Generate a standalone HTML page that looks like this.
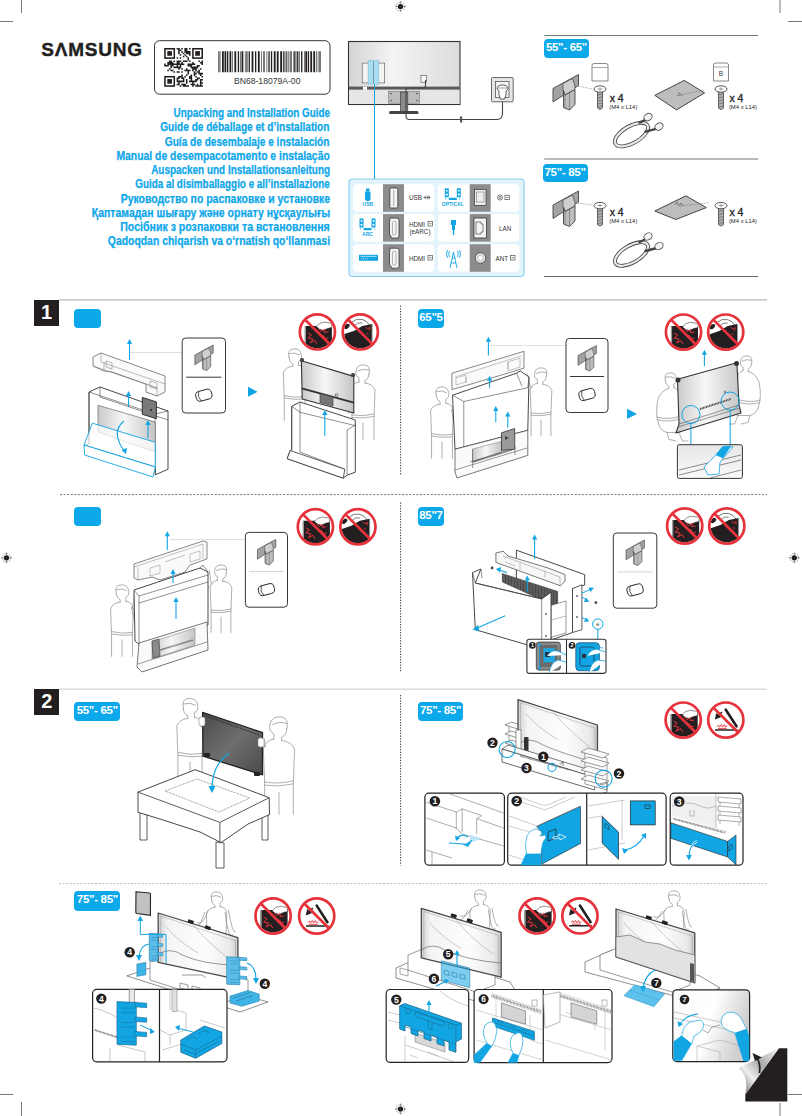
<!DOCTYPE html>
<html><head><meta charset="utf-8">
<style>
*{margin:0;padding:0;box-sizing:border-box}
html,body{width:802px;height:1116px;background:#fff;overflow:hidden}
body{position:relative;font-family:"Liberation Sans",sans-serif;color:#231f20}
.a{position:absolute;white-space:nowrap}
svg{position:absolute;left:0;top:0}
.t{font-weight:bold;color:#0ea7ea;font-size:12px;line-height:14.3px;right:472.2px;transform-origin:100% 50%;-webkit-text-stroke:0.25px #0ea7ea}
.pill{position:absolute;background:#0ba8ea;border-radius:4px;color:#fff;font-weight:bold;text-align:center;overflow:hidden;letter-spacing:-0.3px}
.num{position:absolute;background:#231f20;color:#fff;font-weight:bold;font-size:20px;text-align:center;line-height:25px}
</style></head><body>
<svg width="802" height="1116" viewBox="0 0 802 1116">
<g stroke="#666" stroke-width="0.9" fill="none"><path d="M21.5 0V13M0 21.5H13M780 0V13M788 21.5H802M0 1094.5H13M21.5 1102V1116M788 1094.5H802M780 1103V1116"/></g>
<g><circle cx="400.5" cy="6.5" r="4.3" fill="none" stroke="#555" stroke-width="0.6" stroke-dasharray="1.5 1"/><circle cx="400.5" cy="6.5" r="2.6" fill="#111"/><path d="M395.0 6.5H406.0M400.5 1.0V12.0" stroke="#444" stroke-width="0.5"/></g>
<g><circle cx="6.5" cy="557.8" r="4.3" fill="none" stroke="#555" stroke-width="0.6" stroke-dasharray="1.5 1"/><circle cx="6.5" cy="557.8" r="2.6" fill="#111"/><path d="M1.0 557.8H12.0M6.5 552.3V563.3" stroke="#444" stroke-width="0.5"/></g>
<g><circle cx="794.3" cy="557.8" r="4.3" fill="none" stroke="#555" stroke-width="0.6" stroke-dasharray="1.5 1"/><circle cx="794.3" cy="557.8" r="2.6" fill="#111"/><path d="M788.8 557.8H799.8M794.3 552.3V563.3" stroke="#444" stroke-width="0.5"/></g>
<g><circle cx="400.5" cy="1109" r="4.3" fill="none" stroke="#555" stroke-width="0.6" stroke-dasharray="1.5 1"/><circle cx="400.5" cy="1109" r="2.6" fill="#111"/><path d="M395.0 1109H406.0M400.5 1103.5V1114.5" stroke="#444" stroke-width="0.5"/></g>
<rect x="154.5" y="40.7" width="175.5" height="53.5" rx="5" fill="#fff" stroke="#231f20" stroke-width="0.9"/>
<path d="M176.62 48.00h1.55v1.55h-1.55zM178.17 48.00h1.55v1.55h-1.55zM181.27 48.00h1.55v1.55h-1.55zM184.38 48.00h1.55v1.55h-1.55zM185.93 48.00h1.55v1.55h-1.55zM189.03 48.00h1.55v1.55h-1.55zM178.17 49.55h1.55v1.55h-1.55zM179.72 49.55h1.55v1.55h-1.55zM184.38 49.55h1.55v1.55h-1.55zM185.93 49.55h1.55v1.55h-1.55zM178.17 51.10h1.55v1.55h-1.55zM181.27 51.10h1.55v1.55h-1.55zM184.38 51.10h1.55v1.55h-1.55zM185.93 51.10h1.55v1.55h-1.55zM187.48 51.10h1.55v1.55h-1.55zM189.03 51.10h1.55v1.55h-1.55zM178.17 52.66h1.55v1.55h-1.55zM182.82 52.66h1.55v1.55h-1.55zM185.93 52.66h1.55v1.55h-1.55zM187.48 52.66h1.55v1.55h-1.55zM189.03 52.66h1.55v1.55h-1.55zM179.72 54.21h1.55v1.55h-1.55zM184.38 54.21h1.55v1.55h-1.55zM189.03 54.21h1.55v1.55h-1.55zM182.82 55.76h1.55v1.55h-1.55zM185.93 55.76h1.55v1.55h-1.55zM176.62 57.31h1.55v1.55h-1.55zM179.72 57.31h1.55v1.55h-1.55zM187.48 57.31h1.55v1.55h-1.55zM187.48 58.86h1.55v1.55h-1.55zM168.86 60.42h1.55v1.55h-1.55zM170.41 60.42h1.55v1.55h-1.55zM173.51 60.42h1.55v1.55h-1.55zM176.62 60.42h1.55v1.55h-1.55zM178.17 60.42h1.55v1.55h-1.55zM179.72 60.42h1.55v1.55h-1.55zM182.82 60.42h1.55v1.55h-1.55zM184.38 60.42h1.55v1.55h-1.55zM185.93 60.42h1.55v1.55h-1.55zM189.03 60.42h1.55v1.55h-1.55zM198.34 60.42h1.55v1.55h-1.55zM201.45 60.42h1.55v1.55h-1.55zM167.30 61.97h1.55v1.55h-1.55zM168.86 61.97h1.55v1.55h-1.55zM170.41 61.97h1.55v1.55h-1.55zM171.96 61.97h1.55v1.55h-1.55zM176.62 61.97h1.55v1.55h-1.55zM178.17 61.97h1.55v1.55h-1.55zM181.27 61.97h1.55v1.55h-1.55zM192.14 61.97h1.55v1.55h-1.55zM199.90 61.97h1.55v1.55h-1.55zM201.45 61.97h1.55v1.55h-1.55zM164.20 63.52h1.55v1.55h-1.55zM167.30 63.52h1.55v1.55h-1.55zM168.86 63.52h1.55v1.55h-1.55zM170.41 63.52h1.55v1.55h-1.55zM171.96 63.52h1.55v1.55h-1.55zM173.51 63.52h1.55v1.55h-1.55zM175.06 63.52h1.55v1.55h-1.55zM176.62 63.52h1.55v1.55h-1.55zM178.17 63.52h1.55v1.55h-1.55zM179.72 63.52h1.55v1.55h-1.55zM181.27 63.52h1.55v1.55h-1.55zM182.82 63.52h1.55v1.55h-1.55zM187.48 63.52h1.55v1.55h-1.55zM189.03 63.52h1.55v1.55h-1.55zM190.58 63.52h1.55v1.55h-1.55zM192.14 63.52h1.55v1.55h-1.55zM193.69 63.52h1.55v1.55h-1.55zM201.45 63.52h1.55v1.55h-1.55zM164.20 65.07h1.55v1.55h-1.55zM165.75 65.07h1.55v1.55h-1.55zM167.30 65.07h1.55v1.55h-1.55zM170.41 65.07h1.55v1.55h-1.55zM171.96 65.07h1.55v1.55h-1.55zM176.62 65.07h1.55v1.55h-1.55zM179.72 65.07h1.55v1.55h-1.55zM187.48 65.07h1.55v1.55h-1.55zM189.03 65.07h1.55v1.55h-1.55zM190.58 65.07h1.55v1.55h-1.55zM196.79 65.07h1.55v1.55h-1.55zM198.34 65.07h1.55v1.55h-1.55zM170.41 66.62h1.55v1.55h-1.55zM173.51 66.62h1.55v1.55h-1.55zM175.06 66.62h1.55v1.55h-1.55zM176.62 66.62h1.55v1.55h-1.55zM178.17 66.62h1.55v1.55h-1.55zM179.72 66.62h1.55v1.55h-1.55zM190.58 66.62h1.55v1.55h-1.55zM192.14 66.62h1.55v1.55h-1.55zM193.69 66.62h1.55v1.55h-1.55zM195.24 66.62h1.55v1.55h-1.55zM196.79 66.62h1.55v1.55h-1.55zM168.86 68.18h1.55v1.55h-1.55zM178.17 68.18h1.55v1.55h-1.55zM181.27 68.18h1.55v1.55h-1.55zM185.93 68.18h1.55v1.55h-1.55zM192.14 68.18h1.55v1.55h-1.55zM193.69 68.18h1.55v1.55h-1.55zM195.24 68.18h1.55v1.55h-1.55zM199.90 68.18h1.55v1.55h-1.55zM167.30 69.73h1.55v1.55h-1.55zM170.41 69.73h1.55v1.55h-1.55zM171.96 69.73h1.55v1.55h-1.55zM184.38 69.73h1.55v1.55h-1.55zM185.93 69.73h1.55v1.55h-1.55zM187.48 69.73h1.55v1.55h-1.55zM189.03 69.73h1.55v1.55h-1.55zM192.14 69.73h1.55v1.55h-1.55zM195.24 69.73h1.55v1.55h-1.55zM198.34 69.73h1.55v1.55h-1.55zM173.51 71.28h1.55v1.55h-1.55zM176.62 71.28h1.55v1.55h-1.55zM178.17 71.28h1.55v1.55h-1.55zM181.27 71.28h1.55v1.55h-1.55zM187.48 71.28h1.55v1.55h-1.55zM193.69 71.28h1.55v1.55h-1.55zM196.79 71.28h1.55v1.55h-1.55zM198.34 71.28h1.55v1.55h-1.55zM187.48 72.83h1.55v1.55h-1.55zM193.69 72.83h1.55v1.55h-1.55zM195.24 72.83h1.55v1.55h-1.55zM198.34 72.83h1.55v1.55h-1.55zM199.90 72.83h1.55v1.55h-1.55zM201.45 72.83h1.55v1.55h-1.55zM181.27 74.38h1.55v1.55h-1.55zM185.93 74.38h1.55v1.55h-1.55zM190.58 74.38h1.55v1.55h-1.55zM193.69 74.38h1.55v1.55h-1.55zM199.90 74.38h1.55v1.55h-1.55zM178.17 75.94h1.55v1.55h-1.55zM179.72 75.94h1.55v1.55h-1.55zM181.27 75.94h1.55v1.55h-1.55zM184.38 75.94h1.55v1.55h-1.55zM189.03 75.94h1.55v1.55h-1.55zM190.58 75.94h1.55v1.55h-1.55zM195.24 75.94h1.55v1.55h-1.55zM201.45 75.94h1.55v1.55h-1.55zM176.62 77.49h1.55v1.55h-1.55zM178.17 77.49h1.55v1.55h-1.55zM181.27 77.49h1.55v1.55h-1.55zM182.82 77.49h1.55v1.55h-1.55zM189.03 77.49h1.55v1.55h-1.55zM190.58 77.49h1.55v1.55h-1.55zM196.79 77.49h1.55v1.55h-1.55zM198.34 77.49h1.55v1.55h-1.55zM176.62 79.04h1.55v1.55h-1.55zM182.82 79.04h1.55v1.55h-1.55zM185.93 79.04h1.55v1.55h-1.55zM190.58 79.04h1.55v1.55h-1.55zM195.24 79.04h1.55v1.55h-1.55zM196.79 79.04h1.55v1.55h-1.55zM199.90 79.04h1.55v1.55h-1.55zM201.45 79.04h1.55v1.55h-1.55zM176.62 80.59h1.55v1.55h-1.55zM178.17 80.59h1.55v1.55h-1.55zM179.72 80.59h1.55v1.55h-1.55zM181.27 80.59h1.55v1.55h-1.55zM182.82 80.59h1.55v1.55h-1.55zM185.93 80.59h1.55v1.55h-1.55zM189.03 80.59h1.55v1.55h-1.55zM190.58 80.59h1.55v1.55h-1.55zM192.14 80.59h1.55v1.55h-1.55zM193.69 80.59h1.55v1.55h-1.55zM195.24 80.59h1.55v1.55h-1.55zM199.90 80.59h1.55v1.55h-1.55zM178.17 82.14h1.55v1.55h-1.55zM185.93 82.14h1.55v1.55h-1.55zM192.14 82.14h1.55v1.55h-1.55zM199.90 82.14h1.55v1.55h-1.55zM201.45 82.14h1.55v1.55h-1.55zM176.62 83.70h1.55v1.55h-1.55zM178.17 83.70h1.55v1.55h-1.55zM181.27 83.70h1.55v1.55h-1.55zM182.82 83.70h1.55v1.55h-1.55zM184.38 83.70h1.55v1.55h-1.55zM190.58 83.70h1.55v1.55h-1.55zM192.14 83.70h1.55v1.55h-1.55zM193.69 83.70h1.55v1.55h-1.55zM196.79 83.70h1.55v1.55h-1.55zM199.90 83.70h1.55v1.55h-1.55zM179.72 85.25h1.55v1.55h-1.55zM182.82 85.25h1.55v1.55h-1.55zM184.38 85.25h1.55v1.55h-1.55zM185.93 85.25h1.55v1.55h-1.55zM187.48 85.25h1.55v1.55h-1.55zM192.14 85.25h1.55v1.55h-1.55zM195.24 85.25h1.55v1.55h-1.55zM196.79 85.25h1.55v1.55h-1.55zM198.34 85.25h1.55v1.55h-1.55zM199.90 85.25h1.55v1.55h-1.55zM201.45 85.25h1.55v1.55h-1.55z" fill="#231f20"/>
<rect x="164.98" y="48.78" width="9.31" height="9.31" fill="none" stroke="#231f20" stroke-width="1.55"/><rect x="167.30" y="51.10" width="4.66" height="4.66" fill="#231f20"/>
<rect x="192.91" y="48.78" width="9.31" height="9.31" fill="none" stroke="#231f20" stroke-width="1.55"/><rect x="195.24" y="51.10" width="4.66" height="4.66" fill="#231f20"/>
<rect x="164.98" y="76.71" width="9.31" height="9.31" fill="none" stroke="#231f20" stroke-width="1.55"/><rect x="167.30" y="79.04" width="4.66" height="4.66" fill="#231f20"/>
<path d="M218.00 51.2h0.6v21h-0.6zM219.50 51.2h0.9v21h-0.9zM222.00 51.2h1.8v21h-1.8zM224.50 51.2h1.8v21h-1.8zM227.00 51.2h1.3v21h-1.3zM229.50 51.2h1.8v21h-1.8zM232.20 51.2h0.6v21h-0.6zM234.40 51.2h1.8v21h-1.8zM237.80 51.2h1.3v21h-1.3zM240.00 51.2h0.6v21h-0.6zM241.50 51.2h1.8v21h-1.8zM244.90 51.2h0.6v21h-0.6zM246.20 51.2h0.6v21h-0.6zM247.50 51.2h0.9v21h-0.9zM249.10 51.2h0.9v21h-0.9zM251.60 51.2h1.8v21h-1.8zM255.00 51.2h1.3v21h-1.3zM257.90 51.2h1.8v21h-1.8zM261.30 51.2h0.6v21h-0.6zM263.10 51.2h0.6v21h-0.6zM264.40 51.2h0.6v21h-0.6zM266.60 51.2h0.6v21h-0.6zM268.40 51.2h1.3v21h-1.3zM270.90 51.2h1.3v21h-1.3zM273.80 51.2h1.8v21h-1.8zM276.80 51.2h1.8v21h-1.8zM280.20 51.2h1.8v21h-1.8zM282.90 51.2h0.9v21h-0.9zM284.50 51.2h0.9v21h-0.9zM286.30 51.2h0.9v21h-0.9zM287.90 51.2h0.6v21h-0.6zM289.70 51.2h0.9v21h-0.9zM291.30 51.2h0.6v21h-0.6zM293.50 51.2h1.3v21h-1.3zM295.50 51.2h0.9v21h-0.9zM297.10 51.2h1.3v21h-1.3zM299.30 51.2h0.6v21h-0.6zM301.10 51.2h1.3v21h-1.3zM304.00 51.2h0.6v21h-0.6zM305.30 51.2h1.8v21h-1.8zM307.80 51.2h1.3v21h-1.3zM310.30 51.2h1.8v21h-1.8zM313.30 51.2h1.8v21h-1.8zM316.00 51.2h0.6v21h-0.6zM317.80 51.2h0.6v21h-0.6zM319.10 51.2h0.6v21h-0.6zM320.40 51.2h0.6v21h-0.6z" fill="#231f20"/>
<defs><linearGradient id="mg" x1="0" y1="0" x2="1" y2="0"><stop offset="0" stop-color="#d4d4d4"/><stop offset="0.4" stop-color="#f4f4f4"/><stop offset="1" stop-color="#dcdcdc"/></linearGradient><linearGradient id="tvg" x1="0" y1="0" x2="1" y2="0"><stop offset="0" stop-color="#c9c9c9"/><stop offset="0.45" stop-color="#f7f7f7"/><stop offset="1" stop-color="#c4c4c4"/></linearGradient><linearGradient id="dtv" x1="0" y1="0" x2="1" y2="1"><stop offset="0" stop-color="#4a4a4a"/><stop offset="0.5" stop-color="#6e6e6e"/><stop offset="1" stop-color="#4a4a4a"/></linearGradient></defs>
<rect x="348.5" y="41.5" width="111.5" height="63" fill="url(#mg)" stroke="#333" stroke-width="1.1"/>
<rect x="349" y="86.6" width="110.5" height="3" fill="#5a5a5a"/>
<path d="M349 90H459.5V104H349Z" fill="#e6e6e6" stroke="none"/>
<rect x="362.2" y="63.1" width="22.5" height="19.8" fill="#f3f3f3" stroke="#555" stroke-width="0.6"/>
<rect x="368.2" y="60.4" width="10.5" height="24" fill="#a8dcf2" stroke="#5aa9cf" stroke-width="0.6" stroke-dasharray="1.2 0.8"/>
<path d="M373.5 61V84" stroke="#555" stroke-width="0.5"/>
<rect x="363" y="86.8" width="4" height="3" fill="#fff"/>
<rect x="388.5" y="91.2" width="31.2" height="12" fill="#bdbdbd" stroke="#666" stroke-width="0.5"/>
<g fill="#333"><circle cx="391" cy="93.5" r="0.7"/><circle cx="417" cy="93.5" r="0.7"/><circle cx="391" cy="100.5" r="0.7"/><circle cx="417" cy="100.5" r="0.7"/></g>
<rect x="400.4" y="92" width="7.4" height="19.5" fill="#8a8a8a" stroke="#333" stroke-width="0.6"/>
<rect x="389" y="111" width="29.5" height="3" rx="1.5" fill="#444"/>
<rect x="421" y="75.4" width="5.5" height="6.8" fill="#fff" stroke="#444" stroke-width="0.6"/>
<path d="M425.5 80V86Q425.5 88 423 88H408Q406 88 406 90V116Q406 119.5 409.5 119.5H497Q502.5 119.5 502.5 113V99" fill="none" stroke="#444" stroke-width="1.1"/>
<rect x="460" y="116.5" width="2.2" height="6" fill="#555"/>
<rect x="491.5" y="77.5" width="21.7" height="24.3" rx="1" fill="#e6e6e6" stroke="#444" stroke-width="0.8"/>
<rect x="495.5" y="81.5" width="13.5" height="16" fill="#f4f4f4" stroke="#444" stroke-width="0.7"/>
<path d="M497 89 Q497 85 502.5 85 Q508 85 508 89 L506 91 V95 L504.5 99 H500.5 L499 95 V91Z" fill="#fff" stroke="#333" stroke-width="0.8"/><path d="M498 88 H507" stroke="#555" stroke-width="0.6"/>
<path d="M374.5 84V179" stroke="#12a5e3" stroke-width="1"/>
<rect x="349" y="179" width="175" height="97.5" rx="3.5" fill="#e2f3fb" stroke="#86cdee" stroke-width="1.1"/>
<rect x="353" y="184.2" width="81.5" height="27.6" rx="4" fill="#fff"/>
<rect x="383" y="184.2" width="21" height="27.6" fill="#8c8c8c"/>
<rect x="353" y="214.1" width="81.5" height="27.6" rx="4" fill="#fff"/>
<rect x="383" y="214.1" width="21" height="27.6" fill="#8c8c8c"/>
<rect x="353" y="244.2" width="81.5" height="27.6" rx="4" fill="#fff"/>
<rect x="383" y="244.2" width="21" height="27.6" fill="#8c8c8c"/>
<rect x="437.8" y="184.2" width="81.5" height="27.6" rx="4" fill="#fff"/>
<rect x="469.7" y="184.2" width="21" height="27.6" fill="#8c8c8c"/>
<rect x="437.8" y="214.1" width="81.5" height="27.6" rx="4" fill="#fff"/>
<rect x="469.7" y="214.1" width="21" height="27.6" fill="#8c8c8c"/>
<rect x="437.8" y="244.2" width="81.5" height="27.6" rx="4" fill="#fff"/>
<rect x="469.7" y="244.2" width="21" height="27.6" fill="#8c8c8c"/>
<rect x="389.8" y="188" width="8" height="20" rx="1.5" fill="#f4f4f4" stroke="#333" stroke-width="0.8"/><path d="M393.8 190V206" stroke="#777" stroke-width="0.6"/>
<path d="M390 218.1 H397 Q399 218.1 399 220.1 V236.1 Q399 238.1 397 238.1 H392 L389.5 234.1 V222.1Z" fill="#f4f4f4" stroke="#333" stroke-width="0.8"/><rect x="392.5" y="221.1" width="3.5" height="14" rx="1.5" fill="none" stroke="#777" stroke-width="0.5"/>
<path d="M390 248.2 H397 Q399 248.2 399 250.2 V266.2 Q399 268.2 397 268.2 H392 L389.5 264.2 V252.2Z" fill="#f4f4f4" stroke="#333" stroke-width="0.8"/><rect x="392.5" y="251.2" width="3.5" height="14" rx="1.5" fill="none" stroke="#777" stroke-width="0.5"/>
<rect x="474.5" y="189.5" width="11.5" height="16" fill="#eee" stroke="#333" stroke-width="0.7"/><rect x="476.5" y="192" width="7.5" height="10" fill="none" stroke="#777" stroke-width="0.6"/>
<rect x="474" y="218" width="12.5" height="20" fill="#f4f4f4" stroke="#333" stroke-width="0.8"/><path d="M476 222H481V224H483V232H481V234H476Z" fill="none" stroke="#333" stroke-width="0.6"/>
<circle cx="480.5" cy="258" r="5.2" fill="#eee" stroke="#444" stroke-width="0.8"/><circle cx="480.5" cy="258" r="2.8" fill="#fff" stroke="#888" stroke-width="0.6"/>
<g fill="#12a5e3"><rect x="366" y="188.5" width="3.5" height="3" /><path d="M365 191.5H370.5V199Q370.5 201 367.7 201Q365 201 365 199Z"/></g>
<text x="367.8" y="206.3" font-size="5" font-weight="bold" fill="#12a5e3" text-anchor="middle" font-family="Liberation Sans">USB</text>
<g fill="#12a5e3"><rect x="359.5" y="218.5" width="4" height="9"/><rect x="371.5" y="218.5" width="4" height="9"/><rect x="363.5" y="228.0" width="8" height="2.2"/><path d="M360.5 228.0V230.0M374.5 228.0V230.0" stroke="#12a5e3" stroke-width="0.5"/></g><g fill="#fff"><circle cx="361.5" cy="221.0" r="0.9"/><circle cx="361.5" cy="224.8" r="1.1"/><circle cx="373.5" cy="221.0" r="0.9"/><circle cx="373.5" cy="224.8" r="1.1"/></g>
<text x="367.5" y="236.3" font-size="5" font-weight="bold" fill="#12a5e3" text-anchor="middle" font-family="Liberation Sans">ARC</text>
<g fill="#12a5e3"><rect x="444.8" y="188.3" width="4" height="9"/><rect x="456.8" y="188.3" width="4" height="9"/><rect x="448.8" y="197.8" width="8" height="2.2"/><path d="M445.8 197.8V199.8M459.8 197.8V199.8" stroke="#12a5e3" stroke-width="0.5"/></g><g fill="#fff"><circle cx="446.8" cy="190.8" r="0.9"/><circle cx="446.8" cy="194.60000000000002" r="1.1"/><circle cx="458.8" cy="190.8" r="0.9"/><circle cx="458.8" cy="194.60000000000002" r="1.1"/></g>
<text x="452.8" y="206.10000000000002" font-size="5" font-weight="bold" fill="#12a5e3" text-anchor="middle" font-family="Liberation Sans">OPTICAL</text>
<rect x="359" y="254.8" width="19" height="6" fill="#12a5e3"/><path d="M360.5 256.4H376.5" stroke="#fff" stroke-width="0.6"/><path d="M361 258.8h1.2m0.8 0h1.2m0.8 0h1.2m0.8 0h1.2" stroke="#fff" stroke-width="0.6"/>
<g fill="#12a5e3"><path d="M451 220H456V225H455V230H452V225H451Z"/><rect x="452.8" y="230" width="1.4" height="5"/></g>
<g stroke="#12a5e3" fill="none" stroke-width="0.9"><path d="M450 268L453.5 252L457 268M451 263H456M452 258H455"/><path d="M449.5 251Q448 254 449.5 257M457.5 251Q459 254 457.5 257M447.5 250Q445.5 254 447.5 258M459.5 250Q461.5 254 459.5 258"/></g>
<g font-family="Liberation Sans" font-size="6.3" fill="#333"><text x="409" y="199.5">USB</text><text x="409" y="226.5">HDMI</text><text x="409.5" y="233.5">(eARC)</text><text x="409" y="260.5">HDMI</text><text x="499" y="230.5">LAN</text><text x="495.5" y="260.5">ANT</text></g>
<g fill="none" stroke="#333" stroke-width="0.6"><path d="M424 197.5H430M426 195.5L424 197.5L426 199.5"/><circle cx="428.5" cy="197.5" r="1.3"/><rect x="428" y="221.5" width="4.5" height="4.5"/><path d="M429 223.7H431.5"/><rect x="428" y="255.5" width="4.5" height="4.5"/><path d="M429 257.7H431.5"/><circle cx="500" cy="197.5" r="2.6"/><circle cx="500" cy="197.5" r="1.2"/><rect x="505" y="195.2" width="4.5" height="4.5"/><path d="M506 197.4H508.5"/><rect x="510.5" y="255.5" width="4.5" height="4.5"/><path d="M511.5 257.7H514"/></g>
<path d="M544.2 35.5H758.2" stroke="#666" stroke-width="0.9"/>
<path d="M544.2 159H758.2" stroke="#777" stroke-width="1.1"/>
<path d="M544.2 276.5H758.2" stroke="#555" stroke-width="0.9"/>
<g transform="translate(553 74.5) scale(1.0)"><path d="M0 14 L25.5 0 L25.5 11 L0 27.5Z" fill="#a3a3a3" stroke="#444" stroke-width="0.9" stroke-linejoin="round"/><path d="M10 9 L19.5 4 L22 11.5 L22 15 L12 20.5 L10 16Z" fill="#cfcfcf" stroke="#444" stroke-width="0.7" stroke-linejoin="round"/><path d="M10.5 16 L12 20.5 L22 15 V30 L16.5 35.5 L10.5 33Z" fill="#bdbdbd" stroke="#444" stroke-width="0.9" stroke-linejoin="round"/><path d="M12 20.5 V34.5 M16.5 18 V35.5" stroke="#555" stroke-width="0.5"/></g>
<path d="M578 86 L592 89" stroke="#555" stroke-width="0.5" stroke-dasharray="1 0.7"/>
<path d="M592 65.5 Q592 63.5 594 63.5 H606 Q608 63.5 608 65.5 V81.0 H592 Z" fill="#fff" stroke="#555" stroke-width="0.7"/><path d="M592 67.5 H608" stroke="#555" stroke-width="0.5"/>
<path d="M597.5 91 V108 Q600 111 602.5 108 V91" fill="#b0b0b0" stroke="#444" stroke-width="0.8"/><path d="M597.5 95l5 -1.2 M597.5 98l5 -1.2 M597.5 101l5 -1.2 M597.5 104l5 -1.2 M597.5 107l5 -1.2" stroke="#555" stroke-width="0.6"/><ellipse cx="600" cy="89" rx="6" ry="3.2" fill="#fff" stroke="#444" stroke-width="0.9"/><path d="M597.5 89h5 M600 87.3v3.4" stroke="#666" stroke-width="0.6"/>
<text x="609.7" y="102.4" font-size="10.5" fill="#231f20" stroke="#231f20" stroke-width="0.35" font-family="Liberation Sans">x 4</text><text x="609.2" y="109.0" font-size="5.9" fill="#231f20" font-family="Liberation Sans">(M4 x L14)</text>
<polygon points="654.8,95.3 684.3,80.4 704.6,92.9 676.5,109.9" fill="#bdbdbd" stroke="#444" stroke-width="1" stroke-linejoin="round"/>
<path d="M681 95 L704 90" stroke="#555" stroke-width="0.5" stroke-dasharray="1 0.7"/><path d="M678 93 q3 0 4 3 M677 96 l3 -1" stroke="#444" stroke-width="0.6" fill="none"/>
<path d="M713.5 65 Q713.5 63 715.5 63 H726.5 Q728.5 63 728.5 65 V81 H713.5 Z" fill="#fff" stroke="#555" stroke-width="0.7"/><path d="M713.5 67 H728.5" stroke="#555" stroke-width="0.5"/><text x="721.0" y="76" font-size="6.5" fill="#333" text-anchor="middle" font-family="Liberation Sans">B</text>
<path d="M718.5 91 V108 Q721 111 723.5 108 V91" fill="#b0b0b0" stroke="#444" stroke-width="0.8"/><path d="M718.5 95l5 -1.2 M718.5 98l5 -1.2 M718.5 101l5 -1.2 M718.5 104l5 -1.2 M718.5 107l5 -1.2" stroke="#555" stroke-width="0.6"/><ellipse cx="721" cy="89" rx="6" ry="3.2" fill="#fff" stroke="#444" stroke-width="0.9"/><path d="M718.5 89h5 M721 87.3v3.4" stroke="#666" stroke-width="0.6"/>
<text x="729.4" y="102.4" font-size="10.5" fill="#231f20" stroke="#231f20" stroke-width="0.35" font-family="Liberation Sans">x 4</text><text x="728.9" y="109.0" font-size="5.9" fill="#231f20" font-family="Liberation Sans">(M4 x L14)</text>
<g fill="none" stroke-linecap="round"><ellipse cx="631.5" cy="134.6" rx="18.5" ry="8.5" transform="rotate(-30 631.5 134.6)" stroke="#444" stroke-width="3.8"/><ellipse cx="631.5" cy="134.6" rx="18.5" ry="8.5" transform="rotate(-30 631.5 134.6)" stroke="#e8e8e8" stroke-width="2.2"/><path d="M639.5 122.6 L646 119.6" stroke="#444" stroke-width="2.4"/><path d="M645.5 131.6 L657 128.6" stroke="#444" stroke-width="2.4"/></g><ellipse cx="648" cy="117.1" rx="4.3" ry="3.4" fill="#f4f4f4" stroke="#444" stroke-width="0.9" transform="rotate(-30 648 117.1)"/><ellipse cx="659" cy="126.6" rx="4.3" ry="3.4" fill="#f4f4f4" stroke="#444" stroke-width="0.9" transform="rotate(-30 659 126.6)"/>
<g transform="translate(553 191) scale(1.0)"><path d="M0 14 L25.5 0 L25.5 11 L0 27.5Z" fill="#a3a3a3" stroke="#444" stroke-width="0.9" stroke-linejoin="round"/><path d="M10 9 L19.5 4 L22 11.5 L22 15 L12 20.5 L10 16Z" fill="#cfcfcf" stroke="#444" stroke-width="0.7" stroke-linejoin="round"/><path d="M10.5 16 L12 20.5 L22 15 V30 L16.5 35.5 L10.5 33Z" fill="#bdbdbd" stroke="#444" stroke-width="0.9" stroke-linejoin="round"/><path d="M12 20.5 V34.5 M16.5 18 V35.5" stroke="#555" stroke-width="0.5"/></g>
<path d="M578 203 L592 205" stroke="#555" stroke-width="0.5" stroke-dasharray="1 0.7"/>
<path d="M597.5 207.6 V224.6 Q600 227.6 602.5 224.6 V207.6" fill="#b0b0b0" stroke="#444" stroke-width="0.8"/><path d="M597.5 211.6l5 -1.2 M597.5 214.6l5 -1.2 M597.5 217.6l5 -1.2 M597.5 220.6l5 -1.2 M597.5 223.6l5 -1.2" stroke="#555" stroke-width="0.6"/><ellipse cx="600" cy="205.6" rx="6" ry="3.2" fill="#fff" stroke="#444" stroke-width="0.9"/><path d="M597.5 205.6h5 M600 203.9v3.4" stroke="#666" stroke-width="0.6"/>
<text x="609.7" y="216.1" font-size="10.5" fill="#231f20" stroke="#231f20" stroke-width="0.35" font-family="Liberation Sans">x 4</text><text x="609.2" y="222.7" font-size="5.9" fill="#231f20" font-family="Liberation Sans">(M4 x L14)</text>
<polygon points="654.8,211 686,195.8 706.3,207.6 675.8,219.5" fill="#bdbdbd" stroke="#444" stroke-width="1" stroke-linejoin="round"/>
<path d="M680 206 L708 203" stroke="#555" stroke-width="0.5" stroke-dasharray="1 0.7"/><path d="M675 205 l2 -3 l2 4 l2 -3 l2 3" stroke="#444" stroke-width="0.6" fill="none"/>
<path d="M718.5 207.6 V224.6 Q721 227.6 723.5 224.6 V207.6" fill="#b0b0b0" stroke="#444" stroke-width="0.8"/><path d="M718.5 211.6l5 -1.2 M718.5 214.6l5 -1.2 M718.5 217.6l5 -1.2 M718.5 220.6l5 -1.2 M718.5 223.6l5 -1.2" stroke="#555" stroke-width="0.6"/><ellipse cx="721" cy="205.6" rx="6" ry="3.2" fill="#fff" stroke="#444" stroke-width="0.9"/><path d="M718.5 205.6h5 M721 203.9v3.4" stroke="#666" stroke-width="0.6"/>
<text x="729.4" y="216.1" font-size="10.5" fill="#231f20" stroke="#231f20" stroke-width="0.35" font-family="Liberation Sans">x 4</text><text x="728.9" y="222.7" font-size="5.9" fill="#231f20" font-family="Liberation Sans">(M4 x L14)</text>
<g fill="none" stroke-linecap="round"><ellipse cx="631.5" cy="254" rx="18.5" ry="8.5" transform="rotate(-30 631.5 254)" stroke="#444" stroke-width="3.8"/><ellipse cx="631.5" cy="254" rx="18.5" ry="8.5" transform="rotate(-30 631.5 254)" stroke="#e8e8e8" stroke-width="2.2"/><path d="M639.5 242 L646 239" stroke="#444" stroke-width="2.4"/><path d="M645.5 251 L657 248" stroke="#444" stroke-width="2.4"/></g><ellipse cx="648" cy="236.5" rx="4.3" ry="3.4" fill="#f4f4f4" stroke="#444" stroke-width="0.9" transform="rotate(-30 648 236.5)"/><ellipse cx="659" cy="246" rx="4.3" ry="3.4" fill="#f4f4f4" stroke="#444" stroke-width="0.9" transform="rotate(-30 659 246)"/>
<path d="M59 299.8H767" stroke="#b8b8b8" stroke-width="1.3"/>
<path d="M400.6 305.6V475.5M400.6 502.5V672.5M400.6 695V865.5" stroke="#333" stroke-width="1" stroke-dasharray="1.3 1.4"/>
<path d="M60 494.6H767" stroke="#666" stroke-width="0.9" stroke-dasharray="2 1.6"/>
<path d="M59 689.2H767" stroke="#dcdcdc" stroke-width="1.5"/>
<path d="M59 883.6H767" stroke="#aaa" stroke-width="0.8" stroke-dasharray="2 1.6"/>
<path d="M129.5 360V343" stroke="#12a5e3" stroke-width="1.1"/><path d="M126.9 344 L129.5 339 L132.1 344Z" fill="#12a5e3"/>
<path d="M131 352.5H182" stroke="#999" stroke-width="0.6" stroke-dasharray="0.8 0.8"/>
<rect x="182.2" y="338" width="43.3" height="75" rx="3.5" fill="#fff" stroke="#231f20" stroke-width="0.9"/><path d="M186.2 377.2H221.5" stroke="#231f20" stroke-width="0.9"/><g transform="translate(194.85 345) scale(0.72)"><path d="M0 14 L25.5 0 L25.5 11 L0 27.5Z" fill="#a3a3a3" stroke="#444" stroke-width="0.9" stroke-linejoin="round"/><path d="M10 9 L19.5 4 L22 11.5 L22 15 L12 20.5 L10 16Z" fill="#cfcfcf" stroke="#444" stroke-width="0.7" stroke-linejoin="round"/><path d="M10.5 16 L12 20.5 L22 15 V30 L16.5 35.5 L10.5 33Z" fill="#bdbdbd" stroke="#444" stroke-width="0.9" stroke-linejoin="round"/><path d="M12 20.5 V34.5 M16.5 18 V35.5" stroke="#555" stroke-width="0.5"/></g><g transform="translate(203.85 395.2) rotate(-15)"><rect x="-8" y="-5" width="16" height="10" rx="4" fill="#fff" stroke="#231f20" stroke-width="0.9"/><path d="M-4 -5 Q-7 0 -4 5" stroke="#231f20" stroke-width="0.7" fill="none"/></g>
<polygon points="93.0,357.0 101.0,353.0 165.0,376.0 165.0,392.0 157.0,396.0 146.0,392.0 146.0,384.0 112.0,372.0 104.0,371.0 93.0,366.0" fill="#fafafa" stroke="#555" stroke-width="0.7" stroke-linejoin="round" />
<path d="M101 353 V362 L165 384 M93 366 L157 388 V396 M104 362 V371 M146 384 L157 388" fill="none" stroke="#777" stroke-width="0.5" stroke-linejoin="round" />
<path d="M106 361 l6 2 v6 l-6 -2z M150 381 l7 2 v6 l-7 -2z" fill="none" stroke="#777" stroke-width="0.5" stroke-linejoin="round" />
<polygon points="89.0,392.0 100.0,387.0 168.0,411.0 168.0,469.2 155.3,474.8 155.3,467.0 84.0,445.0 89.0,444.0" fill="#fff" stroke="#333" stroke-width="0.9" stroke-linejoin="round" />
<path d="M100 387 V397 L168 420 M89 392 L155 414 V474 M155 414 L168 411 M89 392 V444" fill="none" stroke="#444" stroke-width="0.6" stroke-linejoin="round" />
<polygon points="98.0,405.3 155.3,422.1 155.3,452.0 98.0,432.0" fill="url(#tvg)" stroke="#555" stroke-width="0.6" stroke-linejoin="round" />
<polygon points="92.4,423.2 155.3,442.3 155.3,467.0 84.0,445.0" fill="#fff" stroke="#12a5e3" stroke-width="0.9" stroke-linejoin="round" fill-opacity="0.75"/>
<polygon points="84.0,445.0 155.3,467.0 153.0,477.0 84.6,455.0" fill="#fff" stroke="#12a5e3" stroke-width="0.9" stroke-linejoin="round" />
<polygon points="142.3,397.4 156.4,401.9 156.4,418.7 142.3,414.3" fill="#7a7a7a" stroke="#222" stroke-width="0.9" stroke-linejoin="round" />
<circle cx="151" cy="410" r="1" fill="#222"/>
<path d="M128.5 407V395" stroke="#12a5e3" stroke-width="1.1"/><path d="M125.9 396 L128.5 391 L131.1 396Z" fill="#12a5e3"/>
<path d="M148 438V424" stroke="#12a5e3" stroke-width="1.1"/><path d="M145.4 425 L148 420 L150.6 425Z" fill="#12a5e3"/>
<path d="M124 421 Q110 432 125 452" fill="none" stroke="#12a5e3" stroke-width="1.1" stroke-linejoin="round" />
<path d="M121.5 450 L126 454 L127 448Z" fill="#12a5e3"/>
<path d="M248 386.8 L257.6 391.8 L248 396.8Z" fill="#12a5e3"/>
<path transform="translate(294.7 349) scale(0.95 0.95)" d="M-6 9 Q-8 1 -2 0 Q6 -1 7 6 Q8 11 4 13 L4 17 M-6 9 Q-6 14 -2 15.5 L-2 18 M-6 5 Q0 3 5 6 M-2 18 Q-10 19 -12 25 L-11 52 L-11 75 M4 17 Q11 18 12 25 L11 51 L11 75 M-11 49 Q0 52 11 50 M-11 51.5 Q0 54 11 52.5 M0 58 V75" fill="none" stroke="#8c8c8c" stroke-width="0.74" stroke-linecap="round"/><path d="M304.3 371.8 Q303.0 397.8 302.5 393.0 M307.9 369.8 Q307.0 392.8 305.5 390.0 " fill="none" stroke="#8c8c8c" stroke-width="0.7" stroke-linecap="round"/>
<path transform="translate(363 365) scale(-1.0 1.0)" d="M-6 9 Q-8 1 -2 0 Q6 -1 7 6 Q8 11 4 13 L4 17 M-6 9 Q-6 14 -2 15.5 L-2 18 M-6 5 Q0 3 5 6 M-2 18 Q-10 19 -12 25 L-11 52 L-11 75 M4 17 Q11 18 12 25 L11 51 L11 75 M-11 49 Q0 52 11 50 M-11 51.5 Q0 54 11 52.5 M0 58 V75" fill="none" stroke="#8c8c8c" stroke-width="0.70" stroke-linecap="round"/><path d="M349.2 389.0 Q348.5 418.0 348.5 413.0 M352.8 387.0 Q352.5 413.0 351.5 410.0 " fill="none" stroke="#8c8c8c" stroke-width="0.7" stroke-linecap="round"/>
<polygon points="301.4,360.7 353.8,376.4 353.8,413.0 302.2,399.0" fill="url(#tvg)" stroke="#333" stroke-width="1.1" stroke-linejoin="round" />
<path d="M301.8 388.4 L353.8 402.6" fill="none" stroke="#333" stroke-width="2" stroke-linejoin="round" />
<polygon points="320.0,393.5 333.0,397.0 333.0,406.0 320.0,402.5" fill="#777" stroke="#333" stroke-width="0.6" stroke-linejoin="round" />
<circle cx="336.5" cy="395" r="1.3" fill="none" stroke="#333" stroke-width="0.6"/>
<rect x="300" y="358" width="4" height="4" rx="1.5" fill="#444"/><rect x="351" y="373" width="4" height="4" rx="1.5" fill="#444"/>
<polygon points="291.7,406.3 300.0,402.0 355.3,420.0 355.3,472.2 347.1,475.2 343.3,478.2 287.2,458.7 290.2,450.5 291.7,450.0" fill="#fff" stroke="#333" stroke-width="0.9" stroke-linejoin="round" />
<path d="M291.7 406.3 L300 412.3 L356 425.8 M300 402 V412.3 M291.7 406.3 V450 M300 412.3 V452 L344.8 469.2 M347.1 475.2 V430 L355.3 425" fill="none" stroke="#444" stroke-width="0.6" stroke-linejoin="round" />
<polygon points="290.2,450.5 344.8,469.2 343.3,478.2 287.2,458.7" fill="#fff" stroke="#333" stroke-width="0.8" stroke-linejoin="round" />
<path d="M324.8 435.7V414" stroke="#12a5e3" stroke-width="1.1"/><path d="M322.2 415 L324.8 410 L327.40000000000003 415Z" fill="#12a5e3"/>
<clipPath id="c317_331"><circle cx="317.4" cy="331.9" r="16.400000000000002"/></clipPath><g clip-path="url(#c317_331)"><path d="M304.9 325.9 H316.9 L331.9 324.4 V351.9 H304.9Z" fill="#231f20"/><rect x="304.7" y="325.9" width="1.3" height="24" fill="#9a9a9a"/><path d="M316.4 326.7 Q319.4 322.4 324.4 322.09999999999997 L331.9 323.4 V327.4 Q327.4 327.9 323.4 330.4 Q319.4 329.9 316.4 326.7Z" fill="#fff" stroke="#231f20" stroke-width="0.5"/><path d="M307.9 332.9 l3.5 2 l-3.5 3 l5 1 l-2.5 4 l4.5 -2.5 l2 3.5 M318.4 328.9 l3 2.5 l3 -2 l0 3 l4 -0.5 M320.4 334.9 l3.5 1 l1.5 3 l3 -1" stroke="#e5323b" stroke-width="1" fill="none"/></g><circle cx="317.4" cy="331.9" r="17.6" fill="none" stroke="#e5323b" stroke-width="2.7"/><path d="M304.95504 319.45504 L329.84495999999996 344.34495999999996" stroke="#e5323b" stroke-width="2.7"/>
<clipPath id="c360_331"><circle cx="360.3" cy="331.9" r="16.400000000000002"/></clipPath><g clip-path="url(#c360_331)"><path d="M344.3 334.09999999999997 L353.8 330.9 Q358.8 327.9 362.3 325.9 L372.1 323.9 V351.9 H344.3Z" fill="#231f20"/><path d="M372.1 323.9 V341.9" stroke="#999" stroke-width="1"/><path d="M351.3 322.4 Q356.3 317.9 362.3 319.4 Q367.3 320.9 369.3 324.9 M354.3 325.9 Q357.3 321.9 362.3 322.9" stroke="#231f20" stroke-width="0.6" fill="none"/><ellipse cx="346.90000000000003" cy="326.4" rx="2" ry="3.2" transform="rotate(50 346.90000000000003 326.4)" fill="#231f20"/><path d="M365.3 326.9 l2 2 l2.5 -1.5 l-0.5 3 M366.3 332.9 l2 2" stroke="#e5323b" stroke-width="0.9" fill="none"/></g><circle cx="360.3" cy="331.9" r="17.6" fill="none" stroke="#e5323b" stroke-width="2.7"/><path d="M347.85504000000003 319.45504 L372.74496 344.34495999999996" stroke="#e5323b" stroke-width="2.7"/>
<path d="M488.4 355.5V340.8" stroke="#12a5e3" stroke-width="1.1"/><path d="M485.79999999999995 341.8 L488.4 336.8 L491.0 341.8Z" fill="#12a5e3"/>
<path d="M491 345.5H567" stroke="#999" stroke-width="0.6" stroke-dasharray="0.8 0.8"/>
<rect x="566" y="338.5" width="42" height="74" rx="3.5" fill="#fff" stroke="#231f20" stroke-width="0.9"/><path d="M570 376.5H604" stroke="#231f20" stroke-width="0.9"/><g transform="translate(578.0 345.5) scale(0.72)"><path d="M0 14 L25.5 0 L25.5 11 L0 27.5Z" fill="#a3a3a3" stroke="#444" stroke-width="0.9" stroke-linejoin="round"/><path d="M10 9 L19.5 4 L22 11.5 L22 15 L12 20.5 L10 16Z" fill="#cfcfcf" stroke="#444" stroke-width="0.7" stroke-linejoin="round"/><path d="M10.5 16 L12 20.5 L22 15 V30 L16.5 35.5 L10.5 33Z" fill="#bdbdbd" stroke="#444" stroke-width="0.9" stroke-linejoin="round"/><path d="M12 20.5 V34.5 M16.5 18 V35.5" stroke="#555" stroke-width="0.5"/></g><g transform="translate(587.0 394.5) rotate(-15)"><rect x="-8" y="-5" width="16" height="10" rx="4" fill="#fff" stroke="#231f20" stroke-width="0.9"/><path d="M-4 -5 Q-7 0 -4 5" stroke="#231f20" stroke-width="0.7" fill="none"/></g>
<path transform="translate(442 387) scale(0.95 0.95)" d="M-6 9 Q-8 1 -2 0 Q6 -1 7 6 Q8 11 4 13 L4 17 M-6 9 Q-6 14 -2 15.5 L-2 18 M-6 5 Q0 3 5 6 M-2 18 Q-10 19 -12 25 L-11 52 L-11 75 M4 17 Q11 18 12 25 L11 51 L11 75 M-11 49 Q0 52 11 50 M-11 51.5 Q0 54 11 52.5 M0 58 V75" fill="none" stroke="#8c8c8c" stroke-width="0.74" stroke-linecap="round"/><path d="M451.6 409.8 Q453.2 415.6 455.5 400.0 M455.2 407.8 Q457.2 410.6 458.5 397.0 M451.6 409.8 Q454.7 433.8 458.5 429.0 M455.2 407.8 Q458.7 428.8 461.5 426.0 " fill="none" stroke="#8c8c8c" stroke-width="0.7" stroke-linecap="round"/>
<path transform="translate(541 368) scale(-0.9 0.9)" d="M-6 9 Q-8 1 -2 0 Q6 -1 7 6 Q8 11 4 13 L4 17 M-6 9 Q-6 14 -2 15.5 L-2 18 M-6 5 Q0 3 5 6 M-2 18 Q-10 19 -12 25 L-11 52 L-11 75 M4 17 Q11 18 12 25 L11 51 L11 75 M-11 49 Q0 52 11 50 M-11 51.5 Q0 54 11 52.5 M0 58 V75" fill="none" stroke="#8c8c8c" stroke-width="0.78" stroke-linecap="round"/><path d="M528.4 389.6 Q526.1 395.2 524.5 377.0 M532.0 387.6 Q530.1 390.2 527.5 374.0 " fill="none" stroke="#8c8c8c" stroke-width="0.7" stroke-linecap="round"/>
<polygon points="451.9,373.2 524.0,351.3 524.0,368.2 505.0,374.0 478.0,382.0 451.9,389.6" fill="#fafafa" stroke="#555" stroke-width="0.7" stroke-linejoin="round" />
<path d="M455 377 L521 356 M456 378 l10 -3 v7 l-10 3z M508 362 l12 -4 v9 l-12 4z M466 383 V377 M508 369 V362" fill="none" stroke="#888" stroke-width="0.5" stroke-linejoin="round" />
<polygon points="452.5,395.2 516.5,373.2 520.3,371.0 529.0,377.0 527.8,430.3 455.0,449.2" fill="#fff" stroke="#333" stroke-width="0.9" stroke-linejoin="round" />
<path d="M452.5 395.2 L463.8 401.5 L527.8 387.7 M463.8 401.5 V447 M516.5 373.2 L522 386 M529 377 L527.8 388" fill="none" stroke="#444" stroke-width="0.6" stroke-linejoin="round" />
<polygon points="455.0,449.2 527.8,430.3 527.8,455.4 457.0,478.0 455.0,472.0" fill="#fafafa" stroke="#555" stroke-width="0.8" stroke-linejoin="round" />
<polygon points="472.6,449.0 501.5,441.5 501.5,452.0 472.6,462.0" fill="url(#tvg)" stroke="#777" stroke-width="0.5" stroke-linejoin="round" />
<path d="M455 470 L527 448 M472.6 449 V468 M515 446 V455 M470 462 L515 448" fill="none" stroke="#555" stroke-width="0.6" stroke-linejoin="round" />
<path d="M473 462 L512 450" fill="none" stroke="#333" stroke-width="1.4" stroke-linejoin="round" stroke-dasharray="0.6 0.5"/>
<polygon points="501.5,432.8 514.7,428.5 514.7,449.2 501.5,450.4" fill="#9a9a9a" stroke="#333" stroke-width="0.8" stroke-linejoin="round" />
<path d="M505 436 l4 2 l-4 2z" fill="#444"/>
<path d="M489.6 387.7V379.8" stroke="#12a5e3" stroke-width="1.1"/><path d="M487.0 380.8 L489.6 375.8 L492.20000000000005 380.8Z" fill="#12a5e3"/>
<path d="M495.8 422.2V409.9" stroke="#12a5e3" stroke-width="1.1"/><path d="M493.2 410.9 L495.8 405.9 L498.40000000000003 410.9Z" fill="#12a5e3"/>
<path d="M507.8 427.8V415.5" stroke="#12a5e3" stroke-width="1.1"/><path d="M505.2 416.5 L507.8 411.5 L510.40000000000003 416.5Z" fill="#12a5e3"/>
<path d="M617 408.8 L627 413.9 L617 419Z" fill="#12a5e3" transform="translate(10 0)"/>
<path transform="translate(670.5 373) scale(0.85 0.85)" d="M-6 9 Q-8 1 -2 0 Q6 -1 7 6 Q8 11 4 13 L4 17 M-6 9 Q-6 14 -2 15.5 L-2 18 M-6 5 Q0 3 5 6 M-2 18 Q-12 21 -15 32 Q-18 48 -14 60 Q-12 68 -4 70 L10 70 Q17 68 15 62 L12 56 M4 17 Q13 21 15 32 L15 44 M-16 52 Q-2 56 14 50 M-15 55 Q-2 59 14 53 M-4 70 L-2 78 L6 80 M10 70 L14 80 L20 80" fill="none" stroke="#8c8c8c" stroke-width="0.82" stroke-linecap="round"/><path d="M678.9 393.4 Q683.4 419.4 688.5 415.0 M682.5 391.4 Q687.4 414.4 691.5 412.0 " fill="none" stroke="#8c8c8c" stroke-width="0.7" stroke-linecap="round"/>
<path transform="translate(746.5 356) scale(-0.85 0.85)" d="M-6 9 Q-8 1 -2 0 Q6 -1 7 6 Q8 11 4 13 L4 17 M-6 9 Q-6 14 -2 15.5 L-2 18 M-6 5 Q0 3 5 6 M-2 18 Q-12 21 -15 32 Q-18 48 -14 60 Q-12 68 -4 70 L10 70 Q17 68 15 62 L12 56 M4 17 Q13 21 15 32 L15 44 M-16 52 Q-2 56 14 50 M-15 55 Q-2 59 14 53 M-4 70 L-2 78 L6 80 M10 70 L14 80 L20 80" fill="none" stroke="#8c8c8c" stroke-width="0.82" stroke-linecap="round"/><path d="M734.5 376.4 Q731.6 407.4 729.5 403.0 M738.1 374.4 Q735.6 402.4 732.5 400.0 " fill="none" stroke="#8c8c8c" stroke-width="0.7" stroke-linecap="round"/>
<polygon points="677.5,379.3 736.9,362.7 739.0,405.0 741.0,413.0 676.0,433.0 679.0,424.0" fill="url(#tvg)" stroke="#333" stroke-width="1.1" stroke-linejoin="round" />
<path d="M679 424 L739 405 M678 427 L740 408" fill="none" stroke="#555" stroke-width="0.6" stroke-linejoin="round" />
<path d="M700 409 L731 399" fill="none" stroke="#444" stroke-width="2" stroke-linejoin="round" stroke-dasharray="1 0.6"/>
<circle cx="678" cy="380" r="2.5" fill="#333"/><circle cx="736.5" cy="363.5" r="2.5" fill="#333"/>
<circle cx="725" cy="392" r="1" fill="none" stroke="#333" stroke-width="0.5"/>
<path d="M704.4 366V353.8" stroke="#12a5e3" stroke-width="1.1"/><path d="M701.8 354.8 L704.4 349.8 L707.0 354.8Z" fill="#12a5e3"/>
<circle cx="690.9" cy="414.5" r="9" fill="none" stroke="#12a5e3" stroke-width="1"/>
<circle cx="730.2" cy="401" r="9" fill="none" stroke="#12a5e3" stroke-width="1"/>
<path d="M690.9 423.5V444.7M730.2 410V444.7" stroke="#12a5e3" stroke-width="1"/>
<defs><linearGradient id="ig" x1="0" y1="0" x2="0" y2="1"><stop offset="0" stop-color="#e6e6e6"/><stop offset="1" stop-color="#fafafa"/></linearGradient></defs>
<rect x="677.4" y="444.7" width="65" height="33.7" rx="2" fill="url(#ig)" stroke="#333" stroke-width="1"/>
<path d="M679 470 L741 455 M679 475 L741 460 M710 478 L741 470" fill="none" stroke="#444" stroke-width="0.6" stroke-linejoin="round" />
<polygon points="712.0,459.0 724.0,446.0 733.0,447.0 720.0,462.0 719.0,474.0 708.0,475.0 704.0,467.0" fill="#fff" stroke="#12a5e3" stroke-width="0.8" stroke-linejoin="round" />
<polygon points="722.0,447.0 731.0,446.0 723.0,458.0 716.0,455.0" fill="#12a5e3" stroke="#12a5e3" stroke-width="0.5" stroke-linejoin="round" />
<clipPath id="c683_332"><circle cx="683.5" cy="332.1" r="16.400000000000002"/></clipPath><g clip-path="url(#c683_332)"><path d="M671.0 326.1 H683.0 L698.0 324.6 V352.1 H671.0Z" fill="#231f20"/><rect x="670.8" y="326.1" width="1.3" height="24" fill="#9a9a9a"/><path d="M682.5 326.90000000000003 Q685.5 322.6 690.5 322.3 L698.0 323.6 V327.6 Q693.5 328.1 689.5 330.6 Q685.5 330.1 682.5 326.90000000000003Z" fill="#fff" stroke="#231f20" stroke-width="0.5"/><path d="M674.0 333.1 l3.5 2 l-3.5 3 l5 1 l-2.5 4 l4.5 -2.5 l2 3.5 M684.5 329.1 l3 2.5 l3 -2 l0 3 l4 -0.5 M686.5 335.1 l3.5 1 l1.5 3 l3 -1" stroke="#e5323b" stroke-width="1" fill="none"/></g><circle cx="683.5" cy="332.1" r="17.6" fill="none" stroke="#e5323b" stroke-width="2.7"/><path d="M671.05504 319.65504000000004 L695.94496 344.54496" stroke="#e5323b" stroke-width="2.7"/>
<clipPath id="c725_332"><circle cx="725.7" cy="332.1" r="16.400000000000002"/></clipPath><g clip-path="url(#c725_332)"><path d="M709.7 334.3 L719.2 331.1 Q724.2 328.1 727.7 326.1 L737.5 324.1 V352.1 H709.7Z" fill="#231f20"/><path d="M737.5 324.1 V342.1" stroke="#999" stroke-width="1"/><path d="M716.7 322.6 Q721.7 318.1 727.7 319.6 Q732.7 321.1 734.7 325.1 M719.7 326.1 Q722.7 322.1 727.7 323.1" stroke="#231f20" stroke-width="0.6" fill="none"/><ellipse cx="712.3000000000001" cy="326.6" rx="2" ry="3.2" transform="rotate(50 712.3000000000001 326.6)" fill="#231f20"/><path d="M730.7 327.1 l2 2 l2.5 -1.5 l-0.5 3 M731.7 333.1 l2 2" stroke="#e5323b" stroke-width="0.9" fill="none"/></g><circle cx="725.7" cy="332.1" r="17.6" fill="none" stroke="#e5323b" stroke-width="2.7"/><path d="M713.25504 319.65504000000004 L738.1449600000001 344.54496" stroke="#e5323b" stroke-width="2.7"/>
<path d="M167.3 550V535.2" stroke="#12a5e3" stroke-width="1.1"/><path d="M164.70000000000002 536.2 L167.3 531.2 L169.9 536.2Z" fill="#12a5e3"/>
<path d="M170 539.5H245" stroke="#999" stroke-width="0.6" stroke-dasharray="0.8 0.8"/>
<rect x="245.4" y="532.4" width="42.1" height="74.8" rx="3.5" fill="#fff" stroke="#231f20" stroke-width="0.9"/><path d="M249.4 571.6H283.5" stroke="#ccc" stroke-width="0.9"/><g transform="translate(257.45 539.4) scale(0.72)"><path d="M0 14 L25.5 0 L25.5 11 L0 27.5Z" fill="#a3a3a3" stroke="#444" stroke-width="0.9" stroke-linejoin="round"/><path d="M10 9 L19.5 4 L22 11.5 L22 15 L12 20.5 L10 16Z" fill="#cfcfcf" stroke="#444" stroke-width="0.7" stroke-linejoin="round"/><path d="M10.5 16 L12 20.5 L22 15 V30 L16.5 35.5 L10.5 33Z" fill="#bdbdbd" stroke="#444" stroke-width="0.9" stroke-linejoin="round"/><path d="M12 20.5 V34.5 M16.5 18 V35.5" stroke="#555" stroke-width="0.5"/></g><g transform="translate(266.45 589.6) rotate(-15)"><rect x="-8" y="-5" width="16" height="10" rx="4" fill="#fff" stroke="#231f20" stroke-width="0.9"/><path d="M-4 -5 Q-7 0 -4 5" stroke="#231f20" stroke-width="0.7" fill="none"/></g>
<path transform="translate(122 585) scale(0.95 0.95)" d="M-6 9 Q-8 1 -2 0 Q6 -1 7 6 Q8 11 4 13 L4 17 M-6 9 Q-6 14 -2 15.5 L-2 18 M-6 5 Q0 3 5 6 M-2 18 Q-10 19 -12 25 L-11 52 L-11 75 M4 17 Q11 18 12 25 L11 51 L11 75 M-11 49 Q0 52 11 50 M-11 51.5 Q0 54 11 52.5 M0 58 V75" fill="none" stroke="#8c8c8c" stroke-width="0.74" stroke-linecap="round"/><path d="M131.6 607.8 Q132.7 613.6 134.5 592.0 M135.2 605.8 Q136.7 608.6 137.5 589.0 M131.6 607.8 Q135.7 631.8 140.5 627.0 M135.2 605.8 Q139.7 626.8 143.5 624.0 " fill="none" stroke="#8c8c8c" stroke-width="0.7" stroke-linecap="round"/>
<path transform="translate(221 565) scale(-0.9 0.9)" d="M-6 9 Q-8 1 -2 0 Q6 -1 7 6 Q8 11 4 13 L4 17 M-6 9 Q-6 14 -2 15.5 L-2 18 M-6 5 Q0 3 5 6 M-2 18 Q-10 19 -12 25 L-11 52 L-11 75 M4 17 Q11 18 12 25 L11 51 L11 75 M-11 49 Q0 52 11 50 M-11 51.5 Q0 54 11 52.5 M0 58 V75" fill="none" stroke="#8c8c8c" stroke-width="0.78" stroke-linecap="round"/><path d="M208.4 586.6 Q207.1 592.2 206.5 573.0 M212.0 584.6 Q211.1 587.2 209.5 570.0 " fill="none" stroke="#8c8c8c" stroke-width="0.7" stroke-linecap="round"/>
<polygon points="134.0,564.0 203.0,541.0 207.0,542.0 207.0,559.0 190.0,565.0 185.0,572.0 160.0,580.0 152.0,577.0 138.0,580.0 134.0,578.0" fill="#fafafa" stroke="#555" stroke-width="0.7" stroke-linejoin="round" />
<path d="M134 567 L203 544 M138 567 V580 M203 544 V559 M150 568 l10 -3 v8 l-10 3z M190 554 l10 -3 v8 l-10 3z M165 562 l20 -7" fill="none" stroke="#888" stroke-width="0.5" stroke-linejoin="round" />
<polygon points="134.0,590.0 200.0,568.0 208.0,572.0 208.0,625.0 140.0,645.0 135.0,641.0" fill="#fff" stroke="#333" stroke-width="0.9" stroke-linejoin="round" />
<path d="M134 590 L139 596 L208 575 M139 596 V645 M139 603 L208 582 M200 568 L203 565 L208 572" fill="none" stroke="#444" stroke-width="0.6" stroke-linejoin="round" />
<polygon points="139.0,643.0 207.0,622.0 208.0,650.0 142.0,672.0 137.0,667.0" fill="#fafafa" stroke="#555" stroke-width="0.8" stroke-linejoin="round" />
<polygon points="152.0,642.0 195.0,628.0 195.0,645.0 152.0,659.0" fill="url(#tvg)" stroke="#777" stroke-width="0.5" stroke-linejoin="round" />
<path d="M138 664 L207 642" fill="none" stroke="#555" stroke-width="0.6" stroke-linejoin="round" />
<polygon points="152.0,641.0 159.0,639.0 160.0,656.0 153.0,658.0" fill="#8a8a8a" stroke="#333" stroke-width="0.6" stroke-linejoin="round" />
<path d="M160 650 L193 640" fill="none" stroke="#444" stroke-width="1.6" stroke-linejoin="round" stroke-dasharray="0.6 0.5"/>
<path d="M173 583V573" stroke="#12a5e3" stroke-width="1.1"/><path d="M170.4 574 L173 569 L175.6 574Z" fill="#12a5e3"/>
<path d="M176 619V601" stroke="#12a5e3" stroke-width="1.1"/><path d="M173.4 602 L176 597 L178.6 602Z" fill="#12a5e3"/>
<clipPath id="c315_526"><circle cx="315.4" cy="526.8" r="16.400000000000002"/></clipPath><g clip-path="url(#c315_526)"><path d="M302.9 520.8 H314.9 L329.9 519.3 V546.8 H302.9Z" fill="#231f20"/><rect x="302.7" y="520.8" width="1.3" height="24" fill="#9a9a9a"/><path d="M314.4 521.5999999999999 Q317.4 517.3 322.4 517.0 L329.9 518.3 V522.3 Q325.4 522.8 321.4 525.3 Q317.4 524.8 314.4 521.5999999999999Z" fill="#fff" stroke="#231f20" stroke-width="0.5"/><path d="M305.9 527.8 l3.5 2 l-3.5 3 l5 1 l-2.5 4 l4.5 -2.5 l2 3.5 M316.4 523.8 l3 2.5 l3 -2 l0 3 l4 -0.5 M318.4 529.8 l3.5 1 l1.5 3 l3 -1" stroke="#e5323b" stroke-width="1" fill="none"/></g><circle cx="315.4" cy="526.8" r="17.6" fill="none" stroke="#e5323b" stroke-width="2.7"/><path d="M302.95504 514.3550399999999 L327.84495999999996 539.24496" stroke="#e5323b" stroke-width="2.7"/>
<clipPath id="c357_526"><circle cx="357.9" cy="526.8" r="16.400000000000002"/></clipPath><g clip-path="url(#c357_526)"><path d="M341.9 529.0 L351.4 525.8 Q356.4 522.8 359.9 520.8 L369.7 518.8 V546.8 H341.9Z" fill="#231f20"/><path d="M369.7 518.8 V536.8" stroke="#999" stroke-width="1"/><path d="M348.9 517.3 Q353.9 512.8 359.9 514.3 Q364.9 515.8 366.9 519.8 M351.9 520.8 Q354.9 516.8 359.9 517.8" stroke="#231f20" stroke-width="0.6" fill="none"/><ellipse cx="344.5" cy="521.3" rx="2" ry="3.2" transform="rotate(50 344.5 521.3)" fill="#231f20"/><path d="M362.9 521.8 l2 2 l2.5 -1.5 l-0.5 3 M363.9 527.8 l2 2" stroke="#e5323b" stroke-width="0.9" fill="none"/></g><circle cx="357.9" cy="526.8" r="17.6" fill="none" stroke="#e5323b" stroke-width="2.7"/><path d="M345.45504 514.3550399999999 L370.34495999999996 539.24496" stroke="#e5323b" stroke-width="2.7"/>
<rect x="613.3" y="533" width="43.5" height="75.2" rx="3.5" fill="#fff" stroke="#231f20" stroke-width="0.9"/><path d="M617.3 571.9H652.8" stroke="#ccc" stroke-width="0.9"/><g transform="translate(626.05 540) scale(0.72)"><path d="M0 14 L25.5 0 L25.5 11 L0 27.5Z" fill="#a3a3a3" stroke="#444" stroke-width="0.9" stroke-linejoin="round"/><path d="M10 9 L19.5 4 L22 11.5 L22 15 L12 20.5 L10 16Z" fill="#cfcfcf" stroke="#444" stroke-width="0.7" stroke-linejoin="round"/><path d="M10.5 16 L12 20.5 L22 15 V30 L16.5 35.5 L10.5 33Z" fill="#bdbdbd" stroke="#444" stroke-width="0.9" stroke-linejoin="round"/><path d="M12 20.5 V34.5 M16.5 18 V35.5" stroke="#555" stroke-width="0.5"/></g><g transform="translate(635.05 589.9) rotate(-15)"><rect x="-8" y="-5" width="16" height="10" rx="4" fill="#fff" stroke="#231f20" stroke-width="0.9"/><path d="M-4 -5 Q-7 0 -4 5" stroke="#231f20" stroke-width="0.7" fill="none"/></g>
<polygon points="516.4,550.2 584.7,574.6 584.7,585.0 572.5,588.6 572.5,632.5 551.0,640.0 551.0,592.0 516.4,580.0" fill="#fff" stroke="#333" stroke-width="0.9" stroke-linejoin="round" />
<polygon points="572.5,588.6 581.9,584.8 581.9,629.7 572.5,632.5" fill="#fff" stroke="#333" stroke-width="0.8" stroke-linejoin="round" />
<g fill="#555"><circle cx="577" cy="596" r="0.9"/><circle cx="577" cy="617" r="0.9"/><circle cx="546" cy="614" r="0.9"/><circle cx="546" cy="635" r="0.9"/></g>
<polygon points="495.9,553.0 503.3,551.2 508.0,556.0 525.0,561.0 548.0,568.0 565.0,574.6 565.0,581.1 560.4,585.8 495.9,562.4" fill="#f7f7f7" stroke="#555" stroke-width="0.8" stroke-linejoin="round" />
<path d="M503 556 L560 577 V585 M520 563 V570 M545 571 V578 M505 562 l10 4" fill="none" stroke="#888" stroke-width="0.5" stroke-linejoin="round" />
<polygon points="502.4,573.6 557.6,591.4 557.6,607.0 502.4,582.0" fill="#4a4a4a" stroke="#333" stroke-width="0.6" stroke-linejoin="round" />
<path d="M504 574 V583 M507 575 V584 M510 576 V585.5 M513 577 V587 M516 578 V588 M519 579 V589.5 M522 580 V591 M525 581 V592 M528 582 V593.5 M531 583 V595 M534 584 V596 M537 585 V597.5 M540 586 V599 M543 587 V600 M546 588 V601.5 M549 589 V603 M552 590 V604 M555 591 V605.5" fill="none" stroke="#999" stroke-width="0.5" stroke-linejoin="round" />
<path d="M551 605.4 L566 601 V633 L551 637.2Z" fill="#fff" stroke="#555" stroke-width="0.6"/><path d="M551 620 L566 616" stroke="#777" stroke-width="0.5"/>
<polygon points="472.5,572.7 480.9,569.0 475.3,583.0 541.7,598.9 551.0,592.3 551.0,640.0 526.7,644.7 475.3,629.7" fill="#fff" stroke="#333" stroke-width="0.9" stroke-linejoin="round" />
<path d="M472.5 572.7 L475.3 583 M480.9 569 L482 578 M475.3 583 L541.7 598.9 V644.7 M541.7 598.9 L535 589" fill="none" stroke="#444" stroke-width="0.6" stroke-linejoin="round" />
<g fill="#555"><circle cx="546" cy="614" r="0.9"/><circle cx="546" cy="636" r="0.9"/></g>
<path d="M534.6 559V538.6" stroke="#12a5e3" stroke-width="1.1"/><path d="M532.0 539.6 L534.6 534.6 L537.2 539.6Z" fill="#12a5e3"/>
<path d="M527.3 591.4V579.5" stroke="#12a5e3" stroke-width="1.1"/><path d="M524.6999999999999 580.5 L527.3 575.5 L529.9 580.5Z" fill="#12a5e3"/>
<path d="M505.2 615.7 L476 628.5" fill="none" stroke="#12a5e3" stroke-width="1.1" stroke-linejoin="round" />
<path d="M472.5 629.7 L478 625 L479.5 631Z" fill="#12a5e3"/>
<path d="M507 572.7 L499 569.8" fill="none" stroke="#12a5e3" stroke-width="1.1" stroke-linejoin="round" />
<path d="M581.9 593.3 L591 589 M581.9 597 L586 599.5 M581.9 617.6 L586 619.5" fill="none" stroke="#12a5e3" stroke-width="1" stroke-linejoin="round" />
<path d="M495.9 569 L501 567 L500 572.5Z M594 587.7 L588.5 587.5 L590.5 592Z M589.4 601.7 L584 602 L586 597.5Z M589.4 621.3 L584 622 L586 617.5Z" fill="#12a5e3"/>
<circle cx="492.1" cy="568" r="1.4" fill="#444"/><circle cx="595.9" cy="602.6" r="1.4" fill="#444"/>
<circle cx="597.8" cy="624.1" r="5.2" fill="#fff" stroke="#12a5e3" stroke-width="1"/><text x="597.8" y="626.2" font-size="5.5" text-anchor="middle" fill="#333" font-family="Liberation Sans">e</text>
<path d="M597.8 629.3V639.3" stroke="#12a5e3" stroke-width="1"/>
<rect x="526.9" y="639.2" width="79.1" height="34.2" rx="2.5" fill="#fff" stroke="#333" stroke-width="1.1"/><path d="M566.5 639.2V673.4" stroke="#333" stroke-width="1.1"/>
<rect x="536.3" y="642.1" width="24" height="28" rx="2.5" fill="#8a8a8a" stroke="#333" stroke-width="0.8"/><rect x="539" y="645" width="18.5" height="22" rx="1.5" fill="#6a6a6a"/><rect x="543.4" y="648.2" width="11.5" height="14.2" fill="#1fa8e0"/><rect x="545" y="652" width="5" height="5" fill="#234"/>
<path d="M547 656 Q552 648 560 652 L566 655 M549 673 Q551 662 558 660 L566 662" fill="#fff" stroke="#12a5e3" stroke-width="0.8" stroke-linejoin="round" />
<path d="M539.6 643 V670" fill="none" stroke="#12a5e3" stroke-width="0.8" stroke-linejoin="round" />
<path d="M538 646 L539.6 642.5 L541.2 646Z M538 667 L539.6 670.5 L541.2 667Z" fill="#12a5e3"/>
<rect x="575.8" y="642.7" width="23.6" height="28" rx="3.5" fill="#12a5e3" stroke="#1a5c84" stroke-width="0.8"/><rect x="580" y="647" width="14" height="19" rx="1.5" fill="none" stroke="#1a3c54" stroke-width="0.8"/><rect x="582" y="654" width="4" height="4" fill="#234"/>
<path d="M587 656 Q592 647 600 650 L605 652 M589 673 Q591 662 598 660 L605 661 M590 646 L603 648" fill="#fff" stroke="#12a5e3" stroke-width="0.8" stroke-linejoin="round" />
<circle cx="532.4" cy="645.4" r="3.3" fill="#231f20"/><text x="532.4" y="647.38" font-size="5.44" font-weight="bold" fill="#fff" text-anchor="middle" font-family="Liberation Sans">1</text>
<circle cx="572" cy="645.4" r="3.3" fill="#231f20"/><text x="572" y="647.38" font-size="5.44" font-weight="bold" fill="#fff" text-anchor="middle" font-family="Liberation Sans">2</text>
<clipPath id="c684_526"><circle cx="684.7" cy="526" r="16.400000000000002"/></clipPath><g clip-path="url(#c684_526)"><path d="M672.2 520 H684.2 L699.2 518.5 V546 H672.2Z" fill="#231f20"/><rect x="672.0" y="520" width="1.3" height="24" fill="#9a9a9a"/><path d="M683.7 520.8 Q686.7 516.5 691.7 516.2 L699.2 517.5 V521.5 Q694.7 522 690.7 524.5 Q686.7 524 683.7 520.8Z" fill="#fff" stroke="#231f20" stroke-width="0.5"/><path d="M675.2 527 l3.5 2 l-3.5 3 l5 1 l-2.5 4 l4.5 -2.5 l2 3.5 M685.7 523 l3 2.5 l3 -2 l0 3 l4 -0.5 M687.7 529 l3.5 1 l1.5 3 l3 -1" stroke="#e5323b" stroke-width="1" fill="none"/></g><circle cx="684.7" cy="526" r="17.6" fill="none" stroke="#e5323b" stroke-width="2.7"/><path d="M672.25504 513.55504 L697.1449600000001 538.44496" stroke="#e5323b" stroke-width="2.7"/>
<clipPath id="c726_526"><circle cx="726.8" cy="526" r="16.400000000000002"/></clipPath><g clip-path="url(#c726_526)"><path d="M710.8 528.2 L720.3 525 Q725.3 522 728.8 520 L738.5999999999999 518 V546 H710.8Z" fill="#231f20"/><path d="M738.5999999999999 518 V536" stroke="#999" stroke-width="1"/><path d="M717.8 516.5 Q722.8 512 728.8 513.5 Q733.8 515 735.8 519 M720.8 520 Q723.8 516 728.8 517" stroke="#231f20" stroke-width="0.6" fill="none"/><ellipse cx="713.4" cy="520.5" rx="2" ry="3.2" transform="rotate(50 713.4 520.5)" fill="#231f20"/><path d="M731.8 521 l2 2 l2.5 -1.5 l-0.5 3 M732.8 527 l2 2" stroke="#e5323b" stroke-width="0.9" fill="none"/></g><circle cx="726.8" cy="526" r="17.6" fill="none" stroke="#e5323b" stroke-width="2.7"/><path d="M714.3550399999999 513.55504 L739.24496 538.44496" stroke="#e5323b" stroke-width="2.7"/>
<defs><linearGradient id="ptv" x1="0" y1="0" x2="1" y2="0"><stop offset="0" stop-color="#cfcfcf"/><stop offset="0.12" stop-color="#f4f4f4"/><stop offset="0.6" stop-color="#fdfdfd"/><stop offset="0.9" stop-color="#eaeaea"/><stop offset="1" stop-color="#c8c8c8"/></linearGradient></defs>
<path transform="translate(190 698.5) scale(1.1 1.1)" d="M-6 9 Q-8 1 -2 0 Q6 -1 7 6 Q8 11 4 13 L4 17 M-6 9 Q-6 14 -2 15.5 L-2 18 M-6 5 Q0 3 5 6 M-2 18 Q-10 19 -12 25 L-11 52 L-11 75 M4 17 Q11 18 12 25 L11 51 L11 75 M-11 49 Q0 52 11 50 M-11 51.5 Q0 54 11 52.5 M0 58 V75" fill="none" stroke="#8c8c8c" stroke-width="0.64" stroke-linecap="round"/><path d="M201.4 724.9 Q201.1 731.3 201.5 721.0 M205.0 722.9 Q205.1 726.3 204.5 718.0 " fill="none" stroke="#8c8c8c" stroke-width="0.7" stroke-linecap="round"/>
<path transform="translate(279 717) scale(-1.3 1.3)" d="M-6 9 Q-8 1 -2 0 Q6 -1 7 6 Q8 11 4 13 L4 17 M-6 9 Q-6 14 -2 15.5 L-2 18 M-6 5 Q0 3 5 6 M-2 18 Q-10 19 -12 25 L-11 52 L-11 75 M4 17 Q11 18 12 25 L11 51 L11 75 M-11 49 Q0 52 11 50 M-11 51.5 Q0 54 11 52.5 M0 58 V75" fill="none" stroke="#8c8c8c" stroke-width="0.54" stroke-linecap="round"/><path d="M261.6 748.2 Q261.2 755.4 261.5 742.0 M265.2 746.2 Q265.2 750.4 264.5 739.0 " fill="none" stroke="#8c8c8c" stroke-width="0.7" stroke-linecap="round"/>
<polygon points="202.6,712.4 262.5,732.6 262.5,774.8 203.0,756.2" fill="url(#dtv)" stroke="#222" stroke-width="1.3" stroke-linejoin="round" />
<path d="M206 716 L259 735" fill="none" stroke="#2a2a2a" stroke-width="1.2" stroke-linejoin="round" stroke-dasharray="1 0.8"/>
<rect x="204" y="753" width="6" height="4" rx="1" fill="#222"/><rect x="254" y="772" width="6" height="4" rx="1" fill="#222"/>
<rect x="199" y="717" width="6" height="9" rx="2" fill="#fff" stroke="#888" stroke-width="0.6"/><rect x="258" y="738" width="6" height="9" rx="2" fill="#fff" stroke="#888" stroke-width="0.6"/>
<polygon points="140.0,812.0 140.0,840.0 147.0,840.0 147.0,815.0" fill="#fff" stroke="#333" stroke-width="0.8" stroke-linejoin="round" />
<polygon points="216.0,842.0 216.0,868.0 224.0,868.0 224.0,843.0" fill="#fff" stroke="#333" stroke-width="0.8" stroke-linejoin="round" />
<polygon points="262.0,815.0 262.0,840.0 268.0,840.0 268.0,813.0" fill="#fff" stroke="#333" stroke-width="0.8" stroke-linejoin="round" />
<polygon points="138.0,792.1 195.2,769.7 269.2,797.7 269.5,814.6 248.0,824.0 221.0,842.6 200.0,832.0 160.0,819.0 138.0,812.3" fill="#fff" stroke="#333" stroke-width="0.9" stroke-linejoin="round" />
<path d="M138 792.1 L219.9 822.4 L269.2 797.7 M219.9 822.4 V842" fill="none" stroke="#333" stroke-width="0.8" stroke-linejoin="round" />
<path d="M165 791 L197 779 L250 798 L219 812 Z" fill="none" stroke="#666" stroke-width="0.8" stroke-linejoin="round" stroke-dasharray="0.8 0.8"/>
<path d="M229 753 Q212 765 212 789" fill="none" stroke="#12a5e3" stroke-width="1.2" stroke-linejoin="round" />
<path d="M208.5 786 L212 793 L215.5 786Z" fill="#12a5e3"/>
<polygon points="509.0,724.0 522.0,728.0 522.0,758.0 509.0,754.0" fill="#fff" stroke="#555" stroke-width="0.6" stroke-linejoin="round" />
<polygon points="505.0,725.0 511.0,722.0 524.0,726.0 518.0,729.0" fill="#fafafa" stroke="#555" stroke-width="0.6" stroke-linejoin="round" />
<polygon points="505.0,734.0 511.0,731.0 524.0,735.0 518.0,738.0" fill="#fafafa" stroke="#555" stroke-width="0.6" stroke-linejoin="round" />
<polygon points="505.0,743.0 511.0,740.0 524.0,744.0 518.0,747.0" fill="#fafafa" stroke="#555" stroke-width="0.6" stroke-linejoin="round" />
<polygon points="518.0,699.7 597.5,725.0 597.5,777.0 518.0,752.0" fill="url(#ptv)" stroke="#4a4a4a" stroke-width="1.3" stroke-linejoin="round" /><path d="M520.5 702.7 L595.0 728 V775 M520.5 702.7 V752" fill="none" stroke="#999" stroke-width="0.5" stroke-linejoin="round" /><path d="M526 713.7 Q540 729.7 558 739.7 M553 711.7 Q566 727.7 589.5 747" fill="none" stroke="#999" stroke-width="0.5" stroke-linejoin="round" /><path d="M518 744 Q530 736 543 745 Q563 754 597.5 763" fill="none" stroke="#555" stroke-width="0.6" stroke-linejoin="round" />
<rect x="516" y="730" width="5" height="28" fill="#fff" stroke="#555" stroke-width="0.6"/>
<rect x="524" y="737" width="4.5" height="21" rx="1" fill="#333"/>
<polygon points="502.0,749.0 508.0,745.0 600.0,773.0 594.7,777.3" fill="#fafafa" stroke="#444" stroke-width="0.7" stroke-linejoin="round" />
<polygon points="502.0,749.0 594.7,777.3 594.7,790.0 502.0,762.0" fill="#fff" stroke="#444" stroke-width="0.8" stroke-linejoin="round" />
<path d="M520 756 L570 770 M560 764 l3 -2 v4" fill="none" stroke="#555" stroke-width="1.4" stroke-linejoin="round" stroke-dasharray="0.6 0.6"/>
<polygon points="585.0,752.0 607.0,758.0 607.0,790.0 585.0,784.0" fill="#fff" stroke="#555" stroke-width="0.6" stroke-linejoin="round" />
<polygon points="581.0,752.0 588.0,748.0 609.0,754.0 603.0,758.0" fill="#fafafa" stroke="#555" stroke-width="0.6" stroke-linejoin="round" />
<polygon points="581.0,761.0 588.0,757.0 609.0,763.0 603.0,767.0" fill="#fafafa" stroke="#555" stroke-width="0.6" stroke-linejoin="round" />
<polygon points="581.0,770.0 588.0,766.0 609.0,772.0 603.0,776.0" fill="#fafafa" stroke="#555" stroke-width="0.6" stroke-linejoin="round" />
<polygon points="581.0,779.0 588.0,775.0 609.0,781.0 603.0,785.0" fill="#fafafa" stroke="#555" stroke-width="0.6" stroke-linejoin="round" />
<path d="M600 784 L607 782 V792 L600 794" fill="none" stroke="#444" stroke-width="0.6" stroke-linejoin="round" />
<circle cx="507.1" cy="749.5" r="8" fill="none" stroke="#12a5e3" stroke-width="1.1"/>
<circle cx="552" cy="767.4" r="4" fill="none" stroke="#12a5e3" stroke-width="1.1"/>
<circle cx="603.6" cy="778.6" r="8.5" fill="none" stroke="#12a5e3" stroke-width="1.1"/>
<circle cx="492.5" cy="742.7" r="5.2" fill="#231f20"/><text x="492.5" y="745.82" font-size="8.58" font-weight="bold" fill="#fff" text-anchor="middle" font-family="Liberation Sans">2</text>
<circle cx="543.3" cy="756.7" r="5.2" fill="#231f20"/><text x="543.3" y="759.82" font-size="8.58" font-weight="bold" fill="#fff" text-anchor="middle" font-family="Liberation Sans">1</text>
<circle cx="526.5" cy="768" r="5.2" fill="#231f20"/><text x="526.5" y="771.12" font-size="8.58" font-weight="bold" fill="#fff" text-anchor="middle" font-family="Liberation Sans">3</text>
<circle cx="619" cy="773.5" r="5.2" fill="#231f20"/><text x="619" y="776.62" font-size="8.58" font-weight="bold" fill="#fff" text-anchor="middle" font-family="Liberation Sans">2</text>
<rect x="424.9" y="793.2" width="79.5" height="72" rx="4" fill="#fff" stroke="#222" stroke-width="1.2"/>
<rect x="507.7" y="793.2" width="158.4" height="72" rx="4" fill="#fff" stroke="#222" stroke-width="1.2"/>
<rect x="670.2" y="793.2" width="72.8" height="72" rx="4" fill="#fff" stroke="#222" stroke-width="1.2"/>
<path d="M586.7 793.2V865.2" stroke="#222" stroke-width="1.2"/>
<path d="M426.3 802.3 L456.3 812 V829 M462.2 808.9 V832 M456.3 812 L462.2 808.9 L481.7 815.7 L476.7 818.6 V834 M447.7 793.2 L503.5 813 M476.7 818.6 L503.5 828 M426.3 818 L456.3 828 L462 834 L503.5 846 M426.3 850 L452 858 M432 852 V865" fill="none" stroke="#666" stroke-width="0.55" stroke-linejoin="round" />
<polygon points="470.0,835.5 481.0,838.5 471.0,842.0" fill="#bfe6f7" stroke="#8fd0ef" stroke-width="0.4" stroke-linejoin="round" />
<polygon points="449.0,843.0 462.0,844.0 468.0,846.5 472.0,840.0 466.0,844.0" fill="#12a5e3" stroke="#12a5e3" stroke-width="0.6" stroke-linejoin="round" />
<path d="M468 837 Q462 833 457 838" fill="none" stroke="#12a5e3" stroke-width="1.2" stroke-linejoin="round" />
<path d="M455 835.5 L456 841 L460 838Z" fill="#12a5e3"/>
<path d="M509 816 L537 826 L580 806 M537 826 V832 M509 826 L537 834 M515 800 L545 810 L575 797 M520 797 l22 8 q4 1 8 -1 l16 -7 M509 855 L530 862" fill="none" stroke="#999" stroke-width="0.5" stroke-linejoin="round" />
<polygon points="537.0,826.5 542.1,823.9 580.5,806.4 580.5,843.5 541.6,864.2 541.6,832.0" fill="#12a5e3" stroke="#222" stroke-width="0.6" stroke-linejoin="round" />
<polygon points="520.9,865.0 526.2,853.6 541.0,853.6 541.0,865.0" fill="#12a5e3" stroke="#12a5e3" stroke-width="0.5" stroke-linejoin="round" />
<path d="M526.5 854 Q524 844 527 836 Q530 830 536 829 L541 831 Q543 834 540 836 L545.5 835 Q547 838 543 842 Q541 850 541 854 Z" fill="#fff" stroke="#12a5e3" stroke-width="0.7" stroke-linejoin="round" />
<path d="M548 832 l8 -3 v9 l-8 3z" fill="none" stroke="#222" stroke-width="0.7" stroke-linejoin="round" />
<path d="M553 837 l6 -1 v-2 l7 3 l-6 3 v-2 l-7 1z" fill="none" stroke="#fff" stroke-width="0.7" stroke-linejoin="round" />
<path d="M588 806 L625 800 M588 818 L603 816 M603 816 V845 M588 850 L625 843 M622 800 V840" fill="none" stroke="#999" stroke-width="0.5" stroke-linejoin="round" />
<rect x="630.3" y="800.9" width="24.9" height="24" fill="#12a5e3" stroke="#222" stroke-width="0.7"/><rect x="645" y="805" width="5" height="3.5" fill="none" stroke="#222" stroke-width="0.6"/>
<polygon points="602.2,816.5 618.5,832.1 618.5,859.2 602.2,843.0" fill="#12a5e3" stroke="#222" stroke-width="0.7" stroke-linejoin="round" />
<path d="M605 823 l4 3 v4 l-4 -3z" fill="none" stroke="#222" stroke-width="0.5" stroke-linejoin="round" />
<path d="M625 850 Q637 848 644 836" fill="none" stroke="#12a5e3" stroke-width="1.2" stroke-linejoin="round" />
<path d="M622 848 L624 854 L628 850Z M641 835 L646 833 L646 839Z" fill="#12a5e3"/>
<path d="M672 796 H716 V828 L672 816Z" fill="#f0f0f0"/>
<path d="M672 806 Q690 800 700 806 Q708 810 716 806 M690 810 v6 h4 v-6 M716 794 V828 M672 818 L727 832" fill="none" stroke="#888" stroke-width="0.5" stroke-linejoin="round" />
<polygon points="718.0,797.0 741.0,799.0 741.0,804.0 718.0,802.0" fill="#fff" stroke="#666" stroke-width="0.55" stroke-linejoin="round" />
<path d="M720 802 V806 M739 804 V808" fill="none" stroke="#666" stroke-width="0.5" stroke-linejoin="round" />
<polygon points="718.0,806.0 741.0,808.0 741.0,813.0 718.0,811.0" fill="#fff" stroke="#666" stroke-width="0.55" stroke-linejoin="round" />
<path d="M720 811 V815 M739 813 V817" fill="none" stroke="#666" stroke-width="0.5" stroke-linejoin="round" />
<polygon points="718.0,815.0 741.0,817.0 741.0,822.0 718.0,820.0" fill="#fff" stroke="#666" stroke-width="0.55" stroke-linejoin="round" />
<path d="M720 820 V824 M739 822 V826" fill="none" stroke="#666" stroke-width="0.5" stroke-linejoin="round" />
<path d="M674 819 L725 833" fill="none" stroke="#666" stroke-width="1.6" stroke-linejoin="round" stroke-dasharray="0.7 0.7"/>
<polygon points="670.8,822.7 727.6,841.4 727.6,857.0 670.8,838.3" fill="#12a5e3" stroke="#222" stroke-width="0.6" stroke-linejoin="round" />
<polygon points="727.6,841.4 736.0,835.0 736.0,864.8 727.6,857.0" fill="#12a5e3" stroke="#222" stroke-width="0.6" stroke-linejoin="round" />
<path d="M729 846 l3 -2 v5 l-3 2z" fill="none" stroke="#222" stroke-width="0.5" stroke-linejoin="round" />
<path d="M697 841 Q689 846 689 857" fill="none" stroke="#fff" stroke-width="2.2" stroke-linejoin="round" />
<path d="M697 841 Q689 846 689 857" fill="none" stroke="#12a5e3" stroke-width="1.1" stroke-linejoin="round" />
<path d="M686 855 L689 860.5 L692 855Z" fill="#12a5e3"/>
<circle cx="434.9" cy="801.3" r="5.3" fill="#231f20"/><text x="434.9" y="804.48" font-size="8.74" font-weight="bold" fill="#fff" text-anchor="middle" font-family="Liberation Sans">1</text>
<circle cx="516.7" cy="801.1" r="5.3" fill="#231f20"/><text x="516.7" y="804.28" font-size="8.74" font-weight="bold" fill="#fff" text-anchor="middle" font-family="Liberation Sans">2</text>
<circle cx="679.2" cy="801.5" r="5.3" fill="#231f20"/><text x="679.2" y="804.68" font-size="8.74" font-weight="bold" fill="#fff" text-anchor="middle" font-family="Liberation Sans">3</text>
<clipPath id="c683_720"><circle cx="683.2" cy="720.1" r="16.400000000000002"/></clipPath><g clip-path="url(#c683_720)"><path d="M670.7 714.1 H682.7 L697.7 712.6 V740.1 H670.7Z" fill="#231f20"/><rect x="670.5" y="714.1" width="1.3" height="24" fill="#9a9a9a"/><path d="M682.2 714.9 Q685.2 710.6 690.2 710.3000000000001 L697.7 711.6 V715.6 Q693.2 716.1 689.2 718.6 Q685.2 718.1 682.2 714.9Z" fill="#fff" stroke="#231f20" stroke-width="0.5"/><path d="M673.7 721.1 l3.5 2 l-3.5 3 l5 1 l-2.5 4 l4.5 -2.5 l2 3.5 M684.2 717.1 l3 2.5 l3 -2 l0 3 l4 -0.5 M686.2 723.1 l3.5 1 l1.5 3 l3 -1" stroke="#e5323b" stroke-width="1" fill="none"/></g><circle cx="683.2" cy="720.1" r="17.6" fill="none" stroke="#e5323b" stroke-width="2.7"/><path d="M670.75504 707.65504 L695.6449600000001 732.5449600000001" stroke="#e5323b" stroke-width="2.7"/>
<clipPath id="c725_720"><circle cx="725.8" cy="720.1" r="16.400000000000002"/></clipPath><g clip-path="url(#c725_720)"><path d="M715.0999999999999 730.0H737.6999999999999" stroke="#231f20" stroke-width="1.5"/><path d="M725.8 709.7 L736.5 726.3000000000001" stroke="#231f20" stroke-width="2.6" stroke-linecap="round"/><path d="M721.8 712.1 L718.8 716.1" stroke="#231f20" stroke-width="1.6"/><path d="M714.8 719.6 L716.3 713.1 L721.3 717.1Z" fill="#231f20"/><path d="M716.8 726.6 l1.8 -1.5 l1 2 l1.8 -2.5 l1.2 2.5 l1.8 -2.5 l1.2 2.5 l1.8 -1.5 M717.8 728.4 h9" stroke="#e5323b" stroke-width="0.9" fill="none"/></g><circle cx="725.8" cy="720.1" r="17.6" fill="none" stroke="#e5323b" stroke-width="2.7"/><path d="M713.3550399999999 707.65504 L738.24496 732.5449600000001" stroke="#e5323b" stroke-width="2.7"/>
<path transform="translate(216.6 892) scale(0.85 0.85)" d="M-6 9 Q-8 1 -2 0 Q6 -1 7 6 Q8 11 4 13 L4 17 M-6 9 Q-6 14 -2 15.5 L-2 18 M-6 5 Q0 3 5 6 M-2 18 Q-10 19 -12 25 L-11 52 L-11 75 M4 17 Q11 18 12 25 L11 51 L11 75 M-11 49 Q0 52 11 50 M-11 51.5 Q0 54 11 52.5 M0 58 V75" fill="none" stroke="#8c8c8c" stroke-width="0.82" stroke-linecap="round"/><path d="M204.6 912.4 Q199.2 930.4 194.5 926.0 M208.2 910.4 Q203.2 925.4 197.5 923.0 M225.0 912.4 Q228.4 939.4 232.5 935.0 M228.6 910.4 Q232.4 934.4 235.5 932.0 " fill="none" stroke="#8c8c8c" stroke-width="0.7" stroke-linecap="round"/>
<polygon points="126.8,975.9 150.0,968.0 268.0,1002.0 240.0,1012.0" fill="#fff" stroke="#444" stroke-width="0.6" stroke-linejoin="round" />
<polygon points="150.0,962.0 175.0,955.0 248.0,980.0 248.0,995.0 222.0,1003.0 150.0,980.0" fill="#fff" stroke="#555" stroke-width="0.6" stroke-linejoin="round" />
<polygon points="158.2,913.0 237.9,937.7 237.9,979.3 158.2,962.4" fill="url(#ptv)" stroke="#4a4a4a" stroke-width="1.3" stroke-linejoin="round" /><path d="M160.7 916 L235.4 940.7 V977.3 M160.7 916 V962.4" fill="none" stroke="#999" stroke-width="0.5" stroke-linejoin="round" /><path d="M166.2 927 Q180.2 943 198.2 953 M193.2 925 Q206.2 941 229.9 959.7" fill="none" stroke="#999" stroke-width="0.5" stroke-linejoin="round" /><path d="M158.2 954.4 Q170.2 946.4 183.2 955.4 Q203.2 964.4 237.9 965.3" fill="none" stroke="#555" stroke-width="0.6" stroke-linejoin="round" />
<rect x="188" y="920" width="6" height="3.5" rx="1" fill="#222" transform="rotate(18 191 921)"/><rect x="205" y="926" width="6" height="3.5" rx="1" fill="#222" transform="rotate(18 208 927)"/>
<path d="M180 983 l8 2 v5 l-8 -2z M192 986 l8 2 v5 l-8 -2z M182 975 h20 l4 3" fill="none" stroke="#555" stroke-width="0.6" stroke-linejoin="round" />
<polygon points="149.3,933.3 158.0,933.9 158.0,961.3 149.3,960.7" fill="#5cbde9" stroke="#2a86b4" stroke-width="0.7" stroke-linejoin="round" /><polygon points="157.3,933.8 162.7,934.4 162.7,937.2 157.3,936.7" fill="#5cbde9" stroke="#2a86b4" stroke-width="0.6" stroke-linejoin="round" /><path d="M151.31 937.5 H157.34 M151.31 940.3 H157.34" fill="none" stroke="#2a86b4" stroke-width="0.5" stroke-linejoin="round" /><polygon points="157.3,943.1 162.7,943.8 162.7,946.6 157.3,946.0" fill="#5cbde9" stroke="#2a86b4" stroke-width="0.6" stroke-linejoin="round" /><path d="M151.31 946.8333333333334 H157.34 M151.31 949.6333333333333 H157.34" fill="none" stroke="#2a86b4" stroke-width="0.5" stroke-linejoin="round" /><polygon points="157.3,952.4 162.7,953.1 162.7,955.9 157.3,955.3" fill="#5cbde9" stroke="#2a86b4" stroke-width="0.6" stroke-linejoin="round" /><path d="M151.31 956.1666666666666 H157.34 M151.31 958.9666666666666 H157.34" fill="none" stroke="#2a86b4" stroke-width="0.5" stroke-linejoin="round" />
<polygon points="136.9,964.0 145.9,962.4 145.9,974.8 136.9,976.4" fill="#3fb2e6" stroke="#2a86b4" stroke-width="0.6" stroke-linejoin="round" />
<polygon points="226.7,956.8 239.8,957.4 239.8,984.8 226.7,984.2" fill="#5cbde9" stroke="#2a86b4" stroke-width="0.7" stroke-linejoin="round" /><polygon points="238.8,957.3 246.9,957.9 246.9,960.7 238.8,960.2" fill="#5cbde9" stroke="#2a86b4" stroke-width="0.6" stroke-linejoin="round" /><path d="M229.73 961.0 H238.82 M229.73 963.8 H238.82" fill="none" stroke="#2a86b4" stroke-width="0.5" stroke-linejoin="round" /><polygon points="238.8,966.6 246.9,967.3 246.9,970.1 238.8,969.5" fill="#5cbde9" stroke="#2a86b4" stroke-width="0.6" stroke-linejoin="round" /><path d="M229.73 970.3333333333334 H238.82 M229.73 973.1333333333333 H238.82" fill="none" stroke="#2a86b4" stroke-width="0.5" stroke-linejoin="round" /><polygon points="238.8,975.9 246.9,976.6 246.9,979.4 238.8,978.8" fill="#5cbde9" stroke="#2a86b4" stroke-width="0.6" stroke-linejoin="round" /><path d="M229.73 979.6666666666666 H238.82 M229.73 982.4666666666666 H238.82" fill="none" stroke="#2a86b4" stroke-width="0.5" stroke-linejoin="round" />
<polygon points="230.0,996.0 248.0,990.5 259.2,994.0 259.2,1001.0 242.0,1006.2 230.0,1003.0" fill="#3fb2e6" stroke="#2a86b4" stroke-width="0.6" stroke-linejoin="round" />
<path d="M233 998 L250 992.5 M236 1001 L253 995.5" fill="none" stroke="#1a6c94" stroke-width="0.5" stroke-linejoin="round" />
<path d="M166 963 V934.4 H140.3 V918" fill="none" stroke="#12a5e3" stroke-width="1" stroke-linejoin="round" />
<path d="M137.5 921 L140.3 915.5 L143 921Z" fill="#12a5e3"/>
<path d="M136 891.7 L149.5 893 Q150.5 893 150.5 894.5 L150.4 915.3 L137 913.5 Q135.8 913.3 135.8 912 Z" fill="#c2c2c2" stroke="#222" stroke-width="1.1"/>
<path d="M149 944 Q140 945 139 957" fill="none" stroke="#12a5e3" stroke-width="1.1" stroke-linejoin="round" />
<path d="M247 963 Q256 966 256 980" fill="none" stroke="#12a5e3" stroke-width="1.1" stroke-linejoin="round" />
<path d="M136 955 L139 961 L142 955Z M253 978 L256 984 L259 978Z" fill="#12a5e3"/>
<circle cx="129.7" cy="952.3" r="5.2" fill="#231f20"/><text x="129.7" y="955.42" font-size="8.58" font-weight="bold" fill="#fff" text-anchor="middle" font-family="Liberation Sans">4</text>
<circle cx="264.8" cy="983.7" r="5.2" fill="#231f20"/><text x="264.8" y="986.82" font-size="8.58" font-weight="bold" fill="#fff" text-anchor="middle" font-family="Liberation Sans">4</text>
<rect x="92.6" y="989.4" width="134.4" height="72.4" rx="4" fill="#fff" stroke="#222" stroke-width="1.2"/><path d="M159.5 989.4V1061.8" stroke="#222" stroke-width="1.2"/>
<path d="M94 1008 Q110 1012 120 1020 M94 1030 L118 1038 M129 989.4 V1003 M134.5 989.4 V1003 M118 1045 L145 1052 V1061 M110 1048 V1061 M170 989 V1010 M176 989 V1010 L186 1013 V1030 L170 1035 V1045 M160 1030 L170 1035 M162 1050 L195 1040 M200 1020 L225 1028" fill="none" stroke="#999" stroke-width="0.55" stroke-linejoin="round" />
<path d="M95 1030 L117 1037" fill="none" stroke="#666" stroke-width="1.6" stroke-linejoin="round" stroke-dasharray="0.7 0.7"/>
<rect x="172" y="989.4" width="5" height="22" fill="#e0e0e0" stroke="#777" stroke-width="0.5"/><rect x="129.3" y="989.4" width="5" height="13" fill="#e8e8e8" stroke="#777" stroke-width="0.5"/>
<polygon points="117.0,1001.6 136.3,1002.5 136.3,1045.2 117.0,1044.3" fill="#12a5e3" stroke="#1a6c94" stroke-width="0.7" stroke-linejoin="round" /><polygon points="134.8,1002.3 146.7,1003.3 146.7,1007.7 134.8,1006.8" fill="#12a5e3" stroke="#1a6c94" stroke-width="0.6" stroke-linejoin="round" /><path d="M121.455 1008.14 H134.82 M121.455 1012.5 H134.82" fill="none" stroke="#1a6c94" stroke-width="0.5" stroke-linejoin="round" /><polygon points="134.8,1016.9 146.7,1017.9 146.7,1022.2 134.8,1021.4" fill="#12a5e3" stroke="#1a6c94" stroke-width="0.6" stroke-linejoin="round" /><path d="M121.455 1022.6733333333333 H134.82 M121.455 1027.0333333333333 H134.82" fill="none" stroke="#1a6c94" stroke-width="0.5" stroke-linejoin="round" /><polygon points="134.8,1031.4 146.7,1032.4 146.7,1036.8 134.8,1035.9" fill="#12a5e3" stroke="#1a6c94" stroke-width="0.6" stroke-linejoin="round" /><path d="M121.455 1037.2066666666667 H134.82 M121.455 1041.5666666666668 H134.82" fill="none" stroke="#1a6c94" stroke-width="0.5" stroke-linejoin="round" />
<polygon points="180.8,1040.0 204.3,1026.0 221.8,1032.1 221.8,1043.5 195.6,1058.3 180.8,1052.2" fill="#12a5e3" stroke="#1a6c94" stroke-width="0.8" stroke-linejoin="round" />
<path d="M180.8 1044 L195.6 1050 L221.8 1036 M195.6 1050 V1058 M186 1040 l6 -3.5 l5 2 M198 1034 l6 -3.5 l5 2 M184 1050 l11 4 l24 -13" fill="none" stroke="#1a6c94" stroke-width="0.6" stroke-linejoin="round" />
<path d="M140 1025 L153 1031 M193 1032 L177 1028" fill="none" stroke="#12a5e3" stroke-width="1" stroke-linejoin="round" />
<path d="M155 1032 L150 1028 L150 1034Z M175 1027 L180 1025 L179 1031Z" fill="#12a5e3"/>
<circle cx="101.3" cy="998.6" r="5.2" fill="#231f20"/><text x="101.3" y="1001.72" font-size="8.58" font-weight="bold" fill="#fff" text-anchor="middle" font-family="Liberation Sans">4</text>
<clipPath id="c273_916"><circle cx="273.1" cy="916" r="16.400000000000002"/></clipPath><g clip-path="url(#c273_916)"><path d="M260.6 910 H272.6 L287.6 908.5 V936 H260.6Z" fill="#231f20"/><rect x="260.40000000000003" y="910" width="1.3" height="24" fill="#9a9a9a"/><path d="M272.1 910.8 Q275.1 906.5 280.1 906.2 L287.6 907.5 V911.5 Q283.1 912 279.1 914.5 Q275.1 914 272.1 910.8Z" fill="#fff" stroke="#231f20" stroke-width="0.5"/><path d="M263.6 917 l3.5 2 l-3.5 3 l5 1 l-2.5 4 l4.5 -2.5 l2 3.5 M274.1 913 l3 2.5 l3 -2 l0 3 l4 -0.5 M276.1 919 l3.5 1 l1.5 3 l3 -1" stroke="#e5323b" stroke-width="1" fill="none"/></g><circle cx="273.1" cy="916" r="17.6" fill="none" stroke="#e5323b" stroke-width="2.7"/><path d="M260.65504000000004 903.55504 L285.54496 928.44496" stroke="#e5323b" stroke-width="2.7"/>
<clipPath id="c316_916"><circle cx="316.7" cy="916" r="16.400000000000002"/></clipPath><g clip-path="url(#c316_916)"><path d="M306.0 925.9H328.59999999999997" stroke="#231f20" stroke-width="1.5"/><path d="M316.7 905.6 L327.4 922.2" stroke="#231f20" stroke-width="2.6" stroke-linecap="round"/><path d="M312.7 908 L309.7 912" stroke="#231f20" stroke-width="1.6"/><path d="M305.7 915.5 L307.2 909 L312.2 913Z" fill="#231f20"/><path d="M307.7 922.5 l1.8 -1.5 l1 2 l1.8 -2.5 l1.2 2.5 l1.8 -2.5 l1.2 2.5 l1.8 -1.5 M308.7 924.3 h9" stroke="#e5323b" stroke-width="0.9" fill="none"/></g><circle cx="316.7" cy="916" r="17.6" fill="none" stroke="#e5323b" stroke-width="2.7"/><path d="M304.25504 903.55504 L329.14495999999997 928.44496" stroke="#e5323b" stroke-width="2.7"/>
<path transform="translate(480 890) scale(0.85 0.85)" d="M-6 9 Q-8 1 -2 0 Q6 -1 7 6 Q8 11 4 13 L4 17 M-6 9 Q-6 14 -2 15.5 L-2 18 M-6 5 Q0 3 5 6 M-2 18 Q-10 19 -12 25 L-11 52 L-11 75 M4 17 Q11 18 12 25 L11 51 L11 75 M-11 49 Q0 52 11 50 M-11 51.5 Q0 54 11 52.5 M0 58 V75" fill="none" stroke="#8c8c8c" stroke-width="0.82" stroke-linecap="round"/><path d="M468.0 910.4 Q462.4 923.4 457.5 919.0 M471.6 908.4 Q466.4 918.4 460.5 916.0 M488.4 910.4 Q491.6 933.4 495.5 929.0 M492.0 908.4 Q495.6 928.4 498.5 926.0 " fill="none" stroke="#8c8c8c" stroke-width="0.7" stroke-linecap="round"/>
<polygon points="396.0,968.0 425.0,955.0 510.0,982.0 515.0,990.0 482.0,1003.0 396.0,978.0" fill="#fff" stroke="#444" stroke-width="0.6" stroke-linejoin="round" />
<polygon points="408.0,955.0 425.0,948.0 495.0,970.0 495.0,985.0 476.0,992.0 408.0,970.0" fill="#fff" stroke="#555" stroke-width="0.6" stroke-linejoin="round" />
<path d="M400 968 l8 2 v6 l-8 -2z" fill="none" stroke="#555" stroke-width="0.5" stroke-linejoin="round" />
<polygon points="421.3,908.4 501.2,932.4 501.2,977.2 421.3,957.8" fill="url(#ptv)" stroke="#4a4a4a" stroke-width="1.3" stroke-linejoin="round" /><path d="M423.8 911.4 L498.7 935.4 V975.2 M423.8 911.4 V957.8" fill="none" stroke="#999" stroke-width="0.5" stroke-linejoin="round" /><path d="M429.3 922.4 Q443.3 938.4 461.3 948.4 M456.3 920.4 Q469.3 936.4 493.2 954.4" fill="none" stroke="#999" stroke-width="0.5" stroke-linejoin="round" /><path d="M421.3 949.8 Q433.3 941.8 446.3 950.8 Q466.3 959.8 501.2 963.2" fill="none" stroke="#555" stroke-width="0.6" stroke-linejoin="round" />
<rect x="451" y="914" width="6" height="3.5" rx="1" fill="#222" transform="rotate(18 454 915)"/><rect x="467" y="919" width="6" height="3.5" rx="1" fill="#222" transform="rotate(18 470 920)"/>
<polygon points="441.3,960.8 469.8,968.0 469.8,987.7 441.3,980.0" fill="#12a5e3" stroke="#1a6c94" stroke-width="0.5" stroke-linejoin="round" fill-opacity="0.55"/>
<path d="M444 970 l5 1.5 v4 l-5 -1.5z M452 972 l5 1.5 v4 l-5 -1.5z M460 974 l5 1.5 v4 l-5 -1.5z" fill="none" stroke="#1a6c94" stroke-width="0.5" stroke-linejoin="round" />
<path d="M457 966V954" stroke="#12a5e3" stroke-width="1.1"/><path d="M454.4 955 L457 950 L459.6 955Z" fill="#12a5e3"/>
<path d="M436 986 L447 981" fill="none" stroke="#12a5e3" stroke-width="1.1" stroke-linejoin="round" />
<path d="M449 980 L444 979 L446 984Z" fill="#12a5e3"/>
<circle cx="448.2" cy="954.2" r="5.2" fill="#231f20"/><text x="448.2" y="957.32" font-size="8.58" font-weight="bold" fill="#fff" text-anchor="middle" font-family="Liberation Sans">5</text>
<circle cx="433.9" cy="978.7" r="5.2" fill="#231f20"/><text x="433.9" y="981.82" font-size="8.58" font-weight="bold" fill="#fff" text-anchor="middle" font-family="Liberation Sans">6</text>
<rect x="386.2" y="989.5" width="82.5" height="72.9" rx="4" fill="#fff" stroke="#222" stroke-width="1.2"/>
<rect x="474.1" y="989.5" width="137.9" height="73.1" rx="4" fill="#fff" stroke="#222" stroke-width="1.2"/><path d="M543.3 989.5V1062.6" stroke="#222" stroke-width="1.2"/>
<path d="M388 1012 L399.7 1015 M388 1020 L399.7 1023 M440 991 Q450 1000 468 1006 M405 1036 V1062 M405 1045 L455 1062 M410 1055 l8 3 M428 1052 l10 4" fill="none" stroke="#999" stroke-width="0.5" stroke-linejoin="round" />
<path d="M415 1033 L445 1043 V1052 L415 1042Z" fill="#d8d8d8" stroke="#777" stroke-width="0.5"/>
<polygon points="399.7,1005.8 404.8,1003.5 461.4,1023.2 461.4,1039.0 455.8,1042.0 455.8,1052.3 449.0,1050.0 449.0,1042.0 444.0,1040.0 444.0,1046.0 437.0,1043.5 437.0,1037.0 431.0,1035.0 431.0,1041.0 424.0,1038.5 424.0,1032.0 418.0,1030.0 418.0,1036.0 411.0,1033.5 411.0,1027.0 405.0,1025.0 405.0,1031.0 399.7,1029.0" fill="#12a5e3" stroke="#1a6c94" stroke-width="0.8" stroke-linejoin="round" />
<path d="M399.7 1005.8 L455.8 1025 V1052 M455.8 1025 L461.4 1023.2 M416 1012 l26 9 q3 1 2 4 l-1 1 l-26 -9 q-3 -1 -2 -4z M428 1020 v8 l4 2 v-8 M403 1026 l52 18" fill="none" stroke="#1a6c94" stroke-width="0.6" stroke-linejoin="round" />
<circle cx="408" cy="1011" r="2.6" fill="none" stroke="#1a6c94" stroke-width="0.6"/><circle cx="450.5" cy="1026" r="2.6" fill="none" stroke="#1a6c94" stroke-width="0.6"/>
<path d="M429 1016V1004" stroke="#12a5e3" stroke-width="1.1"/><path d="M426.4 1005 L429 1000 L431.6 1005Z" fill="#12a5e3"/>
<path d="M476 1010 L543 1030 M476 1040 L543 1060 M491 993 L541.5 1010 M491 997 L541.5 1014 M496 995 V1025 M530 1015 V1040 l13 4" fill="none" stroke="#aaa" stroke-width="0.5" stroke-linejoin="round" />
<path d="M491.6 995.5 L541.5 1012" fill="none" stroke="#777" stroke-width="2.2" stroke-linejoin="round" stroke-dasharray="0.8 0.7"/>
<path d="M501.4 1002.8 L525.5 1010.9 V1024.2 L501.4 1017.1Z" fill="#d4d4d4" stroke="#666" stroke-width="0.6"/>
<rect x="532" y="1000" width="5" height="6" fill="#fff" stroke="#777" stroke-width="0.5"/>
<polygon points="492.5,1018.0 534.4,1031.4 534.4,1040.3 492.5,1026.0" fill="#12a5e3" stroke="#1a6c94" stroke-width="0.7" stroke-linejoin="round" />
<path d="M497 1021 l7 2.2 M509 1025 l7 2.2 M521 1029 l7 2.2 M492.5 1022 L534.4 1036" fill="none" stroke="#1a6c94" stroke-width="0.6" stroke-linejoin="round" />
<polygon points="474.1,1055.0 487.0,1043.0 492.0,1046.0 480.0,1062.6 474.1,1062.6" fill="#12a5e3" stroke="#12a5e3" stroke-width="0.5" stroke-linejoin="round" />
<polygon points="508.0,1062.6 513.0,1053.0 519.0,1055.0 517.0,1062.6" fill="#12a5e3" stroke="#12a5e3" stroke-width="0.5" stroke-linejoin="round" />
<path d="M487 1043 Q481 1034 485 1025 L490 1022 Q493 1021 495 1024 L497 1030 Q496 1040 492 1046 M513 1053 Q508 1044 512 1036 L517 1033 Q520 1032 522 1035 L523 1041 Q522 1050 519 1055" fill="#fff" stroke="#12a5e3" stroke-width="0.7" stroke-linejoin="round" />
<path d="M545 1010 L612 1030 M545 1040 L612 1060 M560 993 L612 1010 M560 997 L612 1014 M565 1012 L595 1022 V1030 M605 1010 V1050" fill="none" stroke="#aaa" stroke-width="0.5" stroke-linejoin="round" />
<path d="M560 995.5 L612 1012" fill="none" stroke="#777" stroke-width="2.2" stroke-linejoin="round" stroke-dasharray="0.8 0.7"/>
<path d="M543.3 995 L560 992 V1022 L545 1028 Z" fill="#fff" stroke="#888" stroke-width="0.6"/>
<path d="M571 1002.8 L596.8 1010.9 V1024.2 L571 1017.1Z" fill="#d4d4d4" stroke="#666" stroke-width="0.6"/>
<rect x="602" y="1000" width="5" height="6" fill="#fff" stroke="#777" stroke-width="0.5"/>
<circle cx="396.3" cy="999.6" r="5.2" fill="#231f20"/><text x="396.3" y="1002.72" font-size="8.58" font-weight="bold" fill="#fff" text-anchor="middle" font-family="Liberation Sans">5</text>
<circle cx="483.6" cy="999.3" r="5" fill="#231f20"/><text x="483.6" y="1002.30" font-size="8.25" font-weight="bold" fill="#fff" text-anchor="middle" font-family="Liberation Sans">6</text>
<clipPath id="c537_915"><circle cx="537.1" cy="915.9" r="16.400000000000002"/></clipPath><g clip-path="url(#c537_915)"><path d="M524.6 909.9 H536.6 L551.6 908.4 V935.9 H524.6Z" fill="#231f20"/><rect x="524.4" y="909.9" width="1.3" height="24" fill="#9a9a9a"/><path d="M536.1 910.6999999999999 Q539.1 906.4 544.1 906.1 L551.6 907.4 V911.4 Q547.1 911.9 543.1 914.4 Q539.1 913.9 536.1 910.6999999999999Z" fill="#fff" stroke="#231f20" stroke-width="0.5"/><path d="M527.6 916.9 l3.5 2 l-3.5 3 l5 1 l-2.5 4 l4.5 -2.5 l2 3.5 M538.1 912.9 l3 2.5 l3 -2 l0 3 l4 -0.5 M540.1 918.9 l3.5 1 l1.5 3 l3 -1" stroke="#e5323b" stroke-width="1" fill="none"/></g><circle cx="537.1" cy="915.9" r="17.6" fill="none" stroke="#e5323b" stroke-width="2.7"/><path d="M524.65504 903.4550399999999 L549.5449600000001 928.34496" stroke="#e5323b" stroke-width="2.7"/>
<clipPath id="c579_915"><circle cx="579.9" cy="915.9" r="16.400000000000002"/></clipPath><g clip-path="url(#c579_915)"><path d="M569.1999999999999 925.8H591.8" stroke="#231f20" stroke-width="1.5"/><path d="M579.9 905.5 L590.6 922.1" stroke="#231f20" stroke-width="2.6" stroke-linecap="round"/><path d="M575.9 907.9 L572.9 911.9" stroke="#231f20" stroke-width="1.6"/><path d="M568.9 915.4 L570.4 908.9 L575.4 912.9Z" fill="#231f20"/><path d="M570.9 922.4 l1.8 -1.5 l1 2 l1.8 -2.5 l1.2 2.5 l1.8 -2.5 l1.2 2.5 l1.8 -1.5 M571.9 924.1999999999999 h9" stroke="#e5323b" stroke-width="0.9" fill="none"/></g><circle cx="579.9" cy="915.9" r="17.6" fill="none" stroke="#e5323b" stroke-width="2.7"/><path d="M567.4550399999999 903.4550399999999 L592.34496 928.34496" stroke="#e5323b" stroke-width="2.7"/>
<path transform="translate(674 891) scale(0.85 0.85)" d="M-6 9 Q-8 1 -2 0 Q6 -1 7 6 Q8 11 4 13 L4 17 M-6 9 Q-6 14 -2 15.5 L-2 18 M-6 5 Q0 3 5 6 M-2 18 Q-10 19 -12 25 L-11 52 L-11 75 M4 17 Q11 18 12 25 L11 51 L11 75 M-11 49 Q0 52 11 50 M-11 51.5 Q0 54 11 52.5 M0 58 V75" fill="none" stroke="#8c8c8c" stroke-width="0.82" stroke-linecap="round"/><path d="M662.0 911.4 Q655.9 924.4 650.5 920.0 M665.6 909.4 Q659.9 919.4 653.5 917.0 M682.4 911.4 Q685.1 934.4 688.5 930.0 M686.0 909.4 Q689.1 929.4 691.5 927.0 " fill="none" stroke="#8c8c8c" stroke-width="0.7" stroke-linecap="round"/>
<polygon points="585.0,962.0 612.0,950.0 700.0,976.0 720.0,988.0 690.0,1000.0 585.0,972.0" fill="#fff" stroke="#444" stroke-width="0.6" stroke-linejoin="round" />
<polygon points="600.0,955.0 615.0,949.0 690.0,970.0 690.0,985.0 672.0,992.0 600.0,970.0" fill="#fff" stroke="#555" stroke-width="0.6" stroke-linejoin="round" />
<polygon points="616.0,909.0 694.8,932.9 694.8,982.8 616.0,956.8" fill="url(#ptv)" stroke="#4a4a4a" stroke-width="1.3" stroke-linejoin="round" /><path d="M618.5 912 L692.3 935.9 V980.8 M618.5 912 V956.8" fill="none" stroke="#999" stroke-width="0.5" stroke-linejoin="round" /><path d="M624 923 Q638 939 656 949 M651 921 Q664 937 686.8 954.9" fill="none" stroke="#999" stroke-width="0.5" stroke-linejoin="round" /><path d="M616 948.8 Q628 940.8 641 949.8 Q661 958.8 694.8 968.8" fill="none" stroke="#555" stroke-width="0.6" stroke-linejoin="round" />
<polygon points="616.0,937.0 630.0,935.0 645.0,942.0 660.0,944.0 675.0,950.0 694.8,955.0 694.8,982.8 616.0,956.8" fill="#e2e2e2" stroke="#555" stroke-width="0.6" stroke-linejoin="round" />
<path d="M690 963 L694 964 V982 L690 981Z" fill="#555"/>
<rect x="646" y="916" width="6" height="3.5" rx="1" fill="#222" transform="rotate(18 649 917)"/><rect x="662" y="921" width="6" height="3.5" rx="1" fill="#222" transform="rotate(18 665 922)"/>
<polygon points="623.9,995.7 634.9,984.8 664.8,993.8 653.9,1006.7" fill="#5cc1ec" stroke="#3a9cc8" stroke-width="0.6" stroke-linejoin="round" />
<path d="M629 990 L659 1000" fill="none" stroke="#3a9cc8" stroke-width="0.5" stroke-linejoin="round" />
<path d="M655 970 Q645 975 643 988" fill="none" stroke="#12a5e3" stroke-width="1.1" stroke-linejoin="round" />
<path d="M640 986 L643 992 L646 986Z" fill="#12a5e3"/>
<circle cx="656.3" cy="982.9" r="5.2" fill="#231f20"/><text x="656.3" y="986.02" font-size="8.58" font-weight="bold" fill="#fff" text-anchor="middle" font-family="Liberation Sans">7</text>
<defs><linearGradient id="ig2" x1="0" y1="0" x2="1" y2="0.3"><stop offset="0" stop-color="#fafafa"/><stop offset="0.55" stop-color="#fff"/><stop offset="1" stop-color="#d0d0d0"/></linearGradient></defs>
<rect x="672.8" y="989.8" width="76.8" height="71.8" rx="4" fill="url(#ig2)" stroke="#222" stroke-width="1.2"/>
<path d="M674 1012 L748 1028 M674 1018 L748 1034 M697 1061 V1046 L720 1040 L748 1048 M697 1046 L720 1052 V1061" fill="none" stroke="#999" stroke-width="0.5" stroke-linejoin="round" />
<polygon points="673.8,1041.6 681.8,1035.6 691.8,1043.6 681.8,1060.6 673.8,1060.6" fill="#12a5e3" stroke="#12a5e3" stroke-width="0.5" stroke-linejoin="round" />
<polygon points="734.7,1032.7 746.6,1028.7 749.0,1036.0 749.0,1061.0 743.6,1061.0" fill="#12a5e3" stroke="#12a5e3" stroke-width="0.5" stroke-linejoin="round" />
<path d="M681.8 1035.6 Q683 1026 690 1022 L700 1020 Q705 1022 703 1028 Q700 1034 694 1036 L691.8 1043.6 M734.7 1032.7 Q722 1030 721 1022 Q722 1013 730 1012 Q738 1012 742 1020 L746.6 1028.7" fill="#fff" stroke="#12a5e3" stroke-width="0.7" stroke-linejoin="round" />
<path d="M703 1030 L708 1033 L712 1027 L720 1025" fill="none" stroke="#777" stroke-width="0.6" stroke-linejoin="round" />
<path d="M698 1014 Q686 1015 680 1024" fill="none" stroke="#12a5e3" stroke-width="1.1" stroke-linejoin="round" />
<path d="M677.5 1021 L678.5 1027 L683 1024Z" fill="#12a5e3"/>
<circle cx="684.5" cy="999.5" r="4.8" fill="#231f20"/><text x="684.5" y="1002.38" font-size="7.92" font-weight="bold" fill="#fff" text-anchor="middle" font-family="Liberation Sans">7</text>
<defs><linearGradient id="peel" x1="0" y1="1" x2="1" y2="0"><stop offset="0" stop-color="#555"/><stop offset="0.35" stop-color="#eee"/><stop offset="0.6" stop-color="#aaa"/><stop offset="1" stop-color="#f4f4f4"/></linearGradient></defs>
<path d="M745.3 1101.4 V1094.6 L778.9 1048.2 H787.3 V1101.4Z" fill="#231f20"/>
<path d="M745.3 1094.6 Q749 1076 738.6 1068 L778.9 1048.2Z" fill="url(#peel)"/>
<path d="M759.5 1073 Q761 1062 755.5 1056" stroke="#231f20" stroke-width="1.8" fill="none"/><path d="M752.5 1053 L762 1057.5 L755 1061Z" fill="#231f20"/>
</svg>
<div class="a" style="left:41.2px;top:40px;font-size:19px;line-height:19px;font-weight:bold;letter-spacing:0.8px;-webkit-text-stroke:0.4px #231f20">SΛMSUNG</div>
<div class="a" style="left:234px;top:76px;font-size:8.6px;color:#333">BN68-18079A-00</div>
<div class="a t" style="top:106.20px;transform:scaleX(0.8235)">Unpacking and Installation Guide</div><div class="a t" style="top:120.45px;transform:scaleX(0.8397)">Guide de déballage et d’installation</div><div class="a t" style="top:134.70px;transform:scaleX(0.8423)">Guía de desembalaje e instalación</div><div class="a t" style="top:148.95px;transform:scaleX(0.8644)">Manual de desempacotamento e instalação</div><div class="a t" style="top:163.20px;transform:scaleX(0.8281)">Auspacken und Installationsanleitung</div><div class="a t" style="top:177.45px;transform:scaleX(0.8216)">Guida al disimballaggio e all’installazione</div><div class="a t" style="top:191.70px;transform:scaleX(0.8723)">Руководство по распаковке и установке</div><div class="a t" style="top:205.95px;transform:scaleX(0.8727)">Қаптамадан шығару және орнату нұсқаулығы</div><div class="a t" style="top:220.20px;transform:scaleX(0.8811)">Посібник з розпаковки та встановлення</div><div class="a t" style="top:234.45px;transform:scaleX(0.8681)">Qadoqdan chiqarish va o‘rnatish qo‘llanmasi</div>
<div class="num" style="left:34px;top:300px;width:25.3px;height:26px">1</div>
<div class="num" style="left:34px;top:689.2px;width:25.4px;height:25.7px">2</div>
<div class="pill" style="left:74.2px;top:308.7px;width:27.1px;height:19px;font-size:12px;line-height:16.4px"></div>
<div class="pill" style="left:417.8px;top:308.7px;width:26.4px;height:19px;font-size:11.5px;line-height:16.4px">65"5</div>
<div class="pill" style="left:74.3px;top:506.5px;width:27px;height:19.2px;font-size:12px;line-height:16.6px"></div>
<div class="pill" style="left:417.8px;top:506.5px;width:26.4px;height:19px;font-size:11.5px;line-height:16.4px">85"7</div>
<div class="pill" style="left:74.2px;top:701.7px;width:46.1px;height:18.9px;font-size:11.5px;line-height:16.3px">55"- 65"</div>
<div class="pill" style="left:417.8px;top:701.8px;width:45.5px;height:19px;font-size:11.5px;line-height:16.4px">75"- 85"</div>
<div class="pill" style="left:74.3px;top:891.4px;width:46.1px;height:19.3px;font-size:11.5px;line-height:16.7px">75"- 85"</div>
<div class="pill" style="left:543.6px;top:39.3px;width:45.7px;height:18.7px;font-size:11.5px;line-height:16.1px">55"- 65"</div>
<div class="pill" style="left:542.5px;top:163.6px;width:45.1px;height:18.6px;font-size:11.5px;line-height:16.0px">75"- 85"</div>
</body></html>
